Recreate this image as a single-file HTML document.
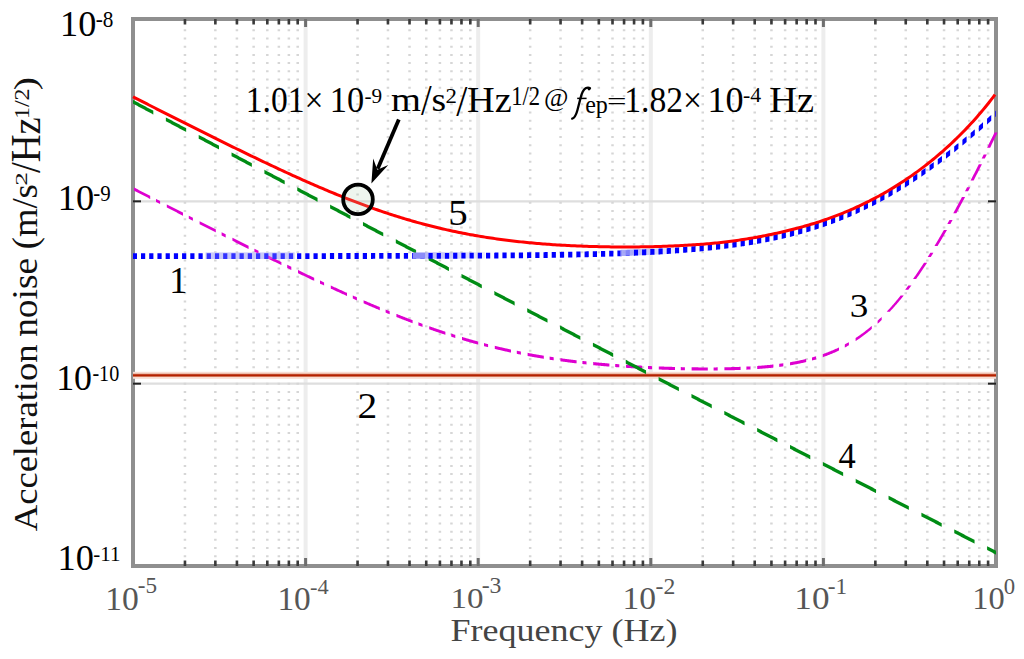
<!DOCTYPE html><html><head><meta charset="utf-8"><style>html,body{margin:0;padding:0;background:#fff;width:1024px;height:659px;overflow:hidden}svg{display:block}text{font-family:"Liberation Serif",serif}</style></head><body>
<svg id="root" width="1024" height="659" viewBox="0 0 1024 659">
<rect x="0" y="0" width="1024" height="659" fill="#fff"/>
<g id="major">
<line x1="305.60" y1="21" x2="305.60" y2="564" stroke="#ededed" stroke-width="4"/>
<line x1="478.20" y1="21" x2="478.20" y2="564" stroke="#ededed" stroke-width="4"/>
<line x1="650.80" y1="21" x2="650.80" y2="564" stroke="#ededed" stroke-width="4"/>
<line x1="823.40" y1="21" x2="823.40" y2="564" stroke="#ededed" stroke-width="4"/>
<line x1="135" y1="201.33" x2="994" y2="201.33" stroke="#dedede" stroke-width="2.2"/>
<line x1="135" y1="383.67" x2="994" y2="383.67" stroke="#dedede" stroke-width="2.2"/>
</g>
<g id="minor" stroke="#d6d6d6" stroke-width="2.5" stroke-dasharray="2 6.22" stroke-dashoffset="0">
<line x1="184.96" y1="21" x2="184.96" y2="564"/>
<line x1="215.35" y1="21" x2="215.35" y2="564"/>
<line x1="236.92" y1="21" x2="236.92" y2="564"/>
<line x1="253.64" y1="21" x2="253.64" y2="564"/>
<line x1="267.31" y1="21" x2="267.31" y2="564"/>
<line x1="278.86" y1="21" x2="278.86" y2="564"/>
<line x1="288.87" y1="21" x2="288.87" y2="564"/>
<line x1="297.70" y1="21" x2="297.70" y2="564"/>
<line x1="357.56" y1="21" x2="357.56" y2="564"/>
<line x1="387.95" y1="21" x2="387.95" y2="564"/>
<line x1="409.52" y1="21" x2="409.52" y2="564"/>
<line x1="426.24" y1="21" x2="426.24" y2="564"/>
<line x1="439.91" y1="21" x2="439.91" y2="564"/>
<line x1="451.46" y1="21" x2="451.46" y2="564"/>
<line x1="461.47" y1="21" x2="461.47" y2="564"/>
<line x1="470.30" y1="21" x2="470.30" y2="564"/>
<line x1="530.16" y1="21" x2="530.16" y2="564"/>
<line x1="560.55" y1="21" x2="560.55" y2="564"/>
<line x1="582.12" y1="21" x2="582.12" y2="564"/>
<line x1="598.84" y1="21" x2="598.84" y2="564"/>
<line x1="612.51" y1="21" x2="612.51" y2="564"/>
<line x1="624.06" y1="21" x2="624.06" y2="564"/>
<line x1="634.07" y1="21" x2="634.07" y2="564"/>
<line x1="642.90" y1="21" x2="642.90" y2="564"/>
<line x1="702.76" y1="21" x2="702.76" y2="564"/>
<line x1="733.15" y1="21" x2="733.15" y2="564"/>
<line x1="754.72" y1="21" x2="754.72" y2="564"/>
<line x1="771.44" y1="21" x2="771.44" y2="564"/>
<line x1="785.11" y1="21" x2="785.11" y2="564"/>
<line x1="796.66" y1="21" x2="796.66" y2="564"/>
<line x1="806.67" y1="21" x2="806.67" y2="564"/>
<line x1="815.50" y1="21" x2="815.50" y2="564"/>
<line x1="875.36" y1="21" x2="875.36" y2="564"/>
<line x1="905.75" y1="21" x2="905.75" y2="564"/>
<line x1="927.32" y1="21" x2="927.32" y2="564"/>
<line x1="944.04" y1="21" x2="944.04" y2="564"/>
<line x1="957.71" y1="21" x2="957.71" y2="564"/>
<line x1="969.26" y1="21" x2="969.26" y2="564"/>
<line x1="979.27" y1="21" x2="979.27" y2="564"/>
<line x1="988.10" y1="21" x2="988.10" y2="564"/>
</g>
<rect x="133" y="19" width="863" height="547" fill="none" stroke="#8f8f8f" stroke-width="4"/>
<defs>
<linearGradient id="bg0" x1="0" x2="1" y1="0" y2="0"><stop offset="0" stop-color="#bcbcf8" stop-opacity="1"/><stop offset="1" stop-color="#bcbcf8" stop-opacity="1"/></linearGradient>
<linearGradient id="bg1" x1="0" x2="1" y1="0" y2="0"><stop offset="0" stop-color="#b8b8f8" stop-opacity="1"/><stop offset="1" stop-color="#b8b8f8" stop-opacity="0.25"/></linearGradient>
<linearGradient id="bg2" x1="0" x2="1" y1="0" y2="0"><stop offset="0" stop-color="#b8b8f8" stop-opacity="1"/><stop offset="1" stop-color="#b8b8f8" stop-opacity="0.25"/></linearGradient>
</defs>
<polygon points="205.60,252.58 213.68,252.58 221.76,252.58 229.85,252.57 237.93,252.57 246.01,252.57 254.09,252.57 262.17,252.56 270.25,252.56 278.34,252.56 286.42,252.55 294.50,252.55 294.50,258.95 286.42,258.95 278.34,258.96 270.25,258.96 262.17,258.96 254.09,258.97 246.01,258.97 237.93,258.97 229.85,258.97 221.76,258.98 213.68,258.98 205.60,258.98" fill="url(#bg0)"/>
<polygon points="425.50,252.36 430.91,252.34 436.32,252.33 441.73,252.31 447.14,252.29 452.55,252.26 457.95,252.24 463.36,252.22 468.77,252.19 474.18,252.16 479.59,252.13 485.00,252.09 485.00,258.49 479.59,258.53 474.18,258.56 468.77,258.59 463.36,258.62 457.95,258.64 452.55,258.66 447.14,258.69 441.73,258.71 436.32,258.73 430.91,258.74 425.50,258.76" fill="url(#bg1)"/>
<polygon points="633.90,249.27 637.55,249.12 641.19,248.95 644.84,248.78 648.48,248.60 652.13,248.42 655.77,248.22 659.42,248.02 663.06,247.81 666.71,247.58 670.35,247.35 674.00,247.11 674.00,253.51 670.35,253.75 666.71,253.98 663.06,254.21 659.42,254.42 655.77,254.62 652.13,254.82 648.48,255.00 644.84,255.18 641.19,255.35 637.55,255.52 633.90,255.67" fill="url(#bg2)"/>
<rect x="133" y="371.80" width="863" height="7.00" fill="#f8dcd3"/>
<rect x="133" y="373.60" width="863" height="3.40" fill="#dc8c70"/>
<rect x="133" y="374.35" width="863" height="1.90" fill="#b42000"/>
<path id="c3" d="M134.00 187.49 L134.12 187.56 L134.62 187.82 L135.12 188.07 L135.62 188.33 L136.12 188.59 L136.62 188.85 L137.12 189.10 L137.62 189.36 L138.12 189.62 L138.62 189.88 L139.12 190.14 L139.62 190.39 L140.12 190.65 L140.62 190.91 L141.12 191.17 L141.62 191.42 L142.12 191.68 L142.62 191.94 L143.12 192.20 L143.62 192.45 L144.12 192.71 L144.62 192.97 L145.12 193.22 L145.62 193.48 L146.12 193.74 L146.62 194.00 L147.12 194.25 L147.62 194.51 L148.12 194.77 L148.62 195.03 L149.12 195.28 L149.62 195.54 L150.12 195.80 L150.20 195.84 L150.20 198.94 L150.12 198.90 L149.62 198.64 L149.12 198.38 L148.62 198.13 L148.12 197.87 L147.62 197.61 L147.12 197.35 L146.62 197.10 L146.12 196.84 L145.62 196.58 L145.12 196.32 L144.62 196.07 L144.12 195.81 L143.62 195.55 L143.12 195.30 L142.62 195.04 L142.12 194.78 L141.62 194.52 L141.12 194.27 L140.62 194.01 L140.12 193.75 L139.62 193.49 L139.12 193.24 L138.62 192.98 L138.12 192.72 L137.62 192.46 L137.12 192.20 L136.62 191.95 L136.12 191.69 L135.62 191.43 L135.12 191.17 L134.62 190.92 L134.12 190.66 L134.00 190.59Z M156.00 198.82 L156.12 198.88 L156.62 199.14 L157.12 199.40 L157.62 199.65 L158.12 199.91 L158.62 200.17 L159.12 200.42 L159.62 200.68 L160.10 200.92 L160.10 204.02 L159.62 203.78 L159.12 203.52 L158.62 203.27 L158.12 203.01 L157.62 202.75 L157.12 202.50 L156.62 202.24 L156.12 201.98 L156.00 201.92Z M166.80 204.36 L166.88 204.40 L167.38 204.66 L167.88 204.91 L168.38 205.17 L168.88 205.43 L169.38 205.68 L169.88 205.94 L170.38 206.19 L170.88 206.45 L171.38 206.71 L171.88 206.96 L172.38 207.22 L172.88 207.47 L173.38 207.73 L173.88 207.99 L174.38 208.24 L174.88 208.50 L175.38 208.76 L175.88 209.01 L176.38 209.27 L176.88 209.52 L177.38 209.78 L177.88 210.03 L178.38 210.29 L178.88 210.55 L179.38 210.80 L179.88 211.06 L180.38 211.31 L180.88 211.57 L181.38 211.82 L181.88 212.08 L182.38 212.34 L182.88 212.59 L183.00 212.66 L183.00 215.76 L182.88 215.69 L182.38 215.44 L181.88 215.18 L181.38 214.92 L180.88 214.67 L180.38 214.41 L179.88 214.16 L179.38 213.90 L178.88 213.65 L178.38 213.39 L177.88 213.13 L177.38 212.88 L176.88 212.62 L176.38 212.37 L175.88 212.11 L175.38 211.86 L174.88 211.60 L174.38 211.34 L173.88 211.09 L173.38 210.83 L172.88 210.57 L172.38 210.32 L171.88 210.06 L171.38 209.81 L170.88 209.55 L170.38 209.29 L169.88 209.04 L169.38 208.78 L168.88 208.53 L168.38 208.27 L167.88 208.01 L167.38 207.76 L166.88 207.50 L166.80 207.46Z M188.80 215.62 L188.88 215.66 L189.38 215.91 L189.88 216.17 L190.38 216.42 L190.88 216.68 L191.38 216.93 L191.88 217.19 L192.38 217.44 L192.88 217.70 L192.90 217.71 L192.90 220.81 L192.88 220.80 L192.38 220.54 L191.88 220.29 L191.38 220.03 L190.88 219.78 L190.38 219.52 L189.88 219.27 L189.38 219.01 L188.88 218.76 L188.80 218.72Z M199.60 221.12 L199.62 221.13 L200.12 221.39 L200.62 221.64 L201.12 221.90 L201.62 222.15 L202.12 222.41 L202.62 222.66 L203.12 222.91 L203.62 223.17 L204.12 223.42 L204.62 223.68 L205.12 223.93 L205.62 224.18 L206.12 224.44 L206.62 224.69 L207.12 224.95 L207.62 225.20 L208.12 225.45 L208.62 225.71 L209.12 225.96 L209.62 226.21 L210.12 226.47 L210.62 226.72 L211.12 226.98 L211.62 227.23 L212.12 227.48 L212.62 227.74 L213.12 227.99 L213.62 228.24 L214.12 228.50 L214.62 228.75 L215.12 229.00 L215.62 229.26 L215.80 229.34 L215.80 232.44 L215.62 232.36 L215.12 232.10 L214.62 231.85 L214.12 231.60 L213.62 231.34 L213.12 231.09 L212.62 230.84 L212.12 230.58 L211.62 230.33 L211.12 230.08 L210.62 229.82 L210.12 229.57 L209.62 229.31 L209.12 229.06 L208.62 228.81 L208.12 228.55 L207.62 228.30 L207.12 228.05 L206.62 227.79 L206.12 227.54 L205.62 227.28 L205.12 227.03 L204.62 226.78 L204.12 226.52 L203.62 226.27 L203.12 226.01 L202.62 225.76 L202.12 225.51 L201.62 225.25 L201.12 225.00 L200.62 224.74 L200.12 224.49 L199.62 224.23 L199.60 224.22Z M221.60 232.28 L221.62 232.29 L222.12 232.54 L222.62 232.79 L223.12 233.05 L223.62 233.30 L224.12 233.55 L224.62 233.80 L225.12 234.06 L225.62 234.31 L225.70 234.35 L225.70 237.45 L225.62 237.41 L225.12 237.16 L224.62 236.90 L224.12 236.65 L223.62 236.40 L223.12 236.15 L222.62 235.89 L222.12 235.64 L221.62 235.39 L221.60 235.38Z M232.40 237.72 L232.50 237.77 L233.00 238.02 L233.50 238.27 L234.00 238.52 L234.50 238.77 L235.00 239.03 L235.50 239.28 L236.00 239.53 L236.50 239.78 L237.00 240.03 L237.50 240.28 L238.00 240.53 L238.50 240.78 L239.00 241.03 L239.50 241.28 L240.00 241.53 L240.50 241.78 L241.00 242.04 L241.50 242.29 L242.00 242.54 L242.50 242.79 L243.00 243.04 L243.50 243.29 L244.00 243.54 L244.50 243.79 L245.00 244.04 L245.50 244.29 L246.00 244.54 L246.50 244.79 L247.00 245.03 L247.50 245.28 L248.00 245.53 L248.50 245.78 L248.60 245.83 L248.60 248.93 L248.50 248.88 L248.00 248.63 L247.50 248.38 L247.00 248.13 L246.50 247.89 L246.00 247.64 L245.50 247.39 L245.00 247.14 L244.50 246.89 L244.00 246.64 L243.50 246.39 L243.00 246.14 L242.50 245.89 L242.00 245.64 L241.50 245.39 L241.00 245.14 L240.50 244.88 L240.00 244.63 L239.50 244.38 L239.00 244.13 L238.50 243.88 L238.00 243.63 L237.50 243.38 L237.00 243.13 L236.50 242.88 L236.00 242.63 L235.50 242.38 L235.00 242.13 L234.50 241.87 L234.00 241.62 L233.50 241.37 L233.00 241.12 L232.50 240.87 L232.40 240.82Z M254.40 248.72 L254.50 248.77 L255.00 249.02 L255.50 249.27 L256.00 249.52 L256.50 249.76 L257.00 250.01 L257.50 250.26 L258.00 250.51 L258.50 250.76 L258.50 253.86 L258.00 253.61 L257.50 253.36 L257.00 253.11 L256.50 252.86 L256.00 252.62 L255.50 252.37 L255.00 252.12 L254.50 251.87 L254.40 251.82Z M265.20 254.07 L265.25 254.10 L265.75 254.34 L266.25 254.59 L266.75 254.84 L267.25 255.08 L267.75 255.33 L268.25 255.58 L268.75 255.82 L269.25 256.07 L269.75 256.32 L270.25 256.56 L270.75 256.81 L271.25 257.05 L271.75 257.30 L272.25 257.54 L272.75 257.79 L273.25 258.04 L273.75 258.28 L274.25 258.53 L274.75 258.77 L275.25 259.02 L275.75 259.26 L276.25 259.51 L276.75 259.75 L277.25 260.00 L277.75 260.24 L278.25 260.49 L278.75 260.73 L279.25 260.97 L279.75 261.22 L280.25 261.46 L280.75 261.71 L281.25 261.95 L281.40 262.02 L281.40 265.12 L281.25 265.05 L280.75 264.81 L280.25 264.56 L279.75 264.32 L279.25 264.07 L278.75 263.83 L278.25 263.59 L277.75 263.34 L277.25 263.10 L276.75 262.85 L276.25 262.61 L275.75 262.36 L275.25 262.12 L274.75 261.87 L274.25 261.63 L273.75 261.38 L273.25 261.14 L272.75 260.89 L272.25 260.64 L271.75 260.40 L271.25 260.15 L270.75 259.91 L270.25 259.66 L269.75 259.42 L269.25 259.17 L268.75 258.92 L268.25 258.68 L267.75 258.43 L267.25 258.18 L266.75 257.94 L266.25 257.69 L265.75 257.44 L265.25 257.20 L265.20 257.17Z M287.20 264.85 L287.25 264.87 L287.75 265.11 L288.25 265.36 L288.75 265.60 L289.25 265.84 L289.75 266.08 L290.25 266.32 L290.75 266.57 L291.25 266.81 L291.30 266.83 L291.30 269.93 L291.25 269.91 L290.75 269.67 L290.25 269.42 L289.75 269.18 L289.25 268.94 L288.75 268.70 L288.25 268.46 L287.75 268.21 L287.25 267.97 L287.20 267.95Z M298.00 270.06 L298.12 270.12 L298.62 270.36 L299.12 270.60 L299.62 270.84 L300.12 271.08 L300.62 271.32 L301.12 271.56 L301.62 271.80 L302.12 272.04 L302.62 272.28 L303.12 272.52 L303.62 272.75 L304.12 272.99 L304.62 273.23 L305.12 273.47 L305.62 273.71 L306.12 273.95 L306.62 274.18 L307.12 274.42 L307.62 274.66 L308.12 274.90 L308.62 275.14 L309.12 275.37 L309.62 275.61 L310.12 275.85 L310.62 276.08 L311.12 276.32 L311.62 276.56 L312.12 276.79 L312.62 277.03 L313.12 277.27 L313.62 277.50 L314.12 277.74 L314.20 277.77 L314.20 280.87 L314.12 280.84 L313.62 280.60 L313.12 280.37 L312.62 280.13 L312.12 279.89 L311.62 279.66 L311.12 279.42 L310.62 279.18 L310.12 278.95 L309.62 278.71 L309.12 278.47 L308.62 278.24 L308.12 278.00 L307.62 277.76 L307.12 277.52 L306.62 277.28 L306.12 277.05 L305.62 276.81 L305.12 276.57 L304.62 276.33 L304.12 276.09 L303.62 275.85 L303.12 275.62 L302.62 275.38 L302.12 275.14 L301.62 274.90 L301.12 274.66 L300.62 274.42 L300.12 274.18 L299.62 273.94 L299.12 273.70 L298.62 273.46 L298.12 273.22 L298.00 273.16Z M320.00 280.50 L320.12 280.56 L320.62 280.79 L321.12 281.03 L321.62 281.26 L322.12 281.49 L322.62 281.73 L323.12 281.96 L323.62 282.19 L324.10 282.41 L324.10 285.51 L323.62 285.29 L323.12 285.06 L322.62 284.83 L322.12 284.59 L321.62 284.36 L321.12 284.13 L320.62 283.89 L320.12 283.66 L320.00 283.60Z M330.80 285.52 L330.88 285.55 L331.38 285.78 L331.88 286.01 L332.38 286.24 L332.88 286.47 L333.38 286.70 L333.88 286.93 L334.38 287.16 L334.88 287.39 L335.38 287.62 L335.88 287.85 L336.38 288.08 L336.88 288.30 L337.38 288.53 L337.88 288.76 L338.38 288.99 L338.88 289.22 L339.38 289.44 L339.88 289.67 L340.38 289.90 L340.88 290.12 L341.38 290.35 L341.88 290.58 L342.38 290.80 L342.88 291.03 L343.38 291.26 L343.88 291.48 L344.38 291.71 L344.88 291.93 L345.38 292.16 L345.88 292.38 L346.38 292.61 L346.88 292.83 L347.00 292.89 L347.00 295.99 L346.88 295.93 L346.38 295.71 L345.88 295.48 L345.38 295.26 L344.88 295.03 L344.38 294.81 L343.88 294.58 L343.38 294.36 L342.88 294.13 L342.38 293.90 L341.88 293.68 L341.38 293.45 L340.88 293.22 L340.38 293.00 L339.88 292.77 L339.38 292.54 L338.88 292.32 L338.38 292.09 L337.88 291.86 L337.38 291.63 L336.88 291.40 L336.38 291.18 L335.88 290.95 L335.38 290.72 L334.88 290.49 L334.38 290.26 L333.88 290.03 L333.38 289.80 L332.88 289.57 L332.38 289.34 L331.88 289.11 L331.38 288.88 L330.88 288.65 L330.80 288.62Z M352.80 295.47 L352.88 295.51 L353.38 295.73 L353.88 295.95 L354.38 296.17 L354.88 296.39 L355.38 296.61 L355.88 296.84 L356.38 297.06 L356.88 297.28 L356.90 297.29 L356.90 300.39 L356.88 300.38 L356.38 300.16 L355.88 299.94 L355.38 299.71 L354.88 299.49 L354.38 299.27 L353.88 299.05 L353.38 298.83 L352.88 298.61 L352.80 298.57Z M363.60 300.21 L363.62 300.23 L364.12 300.44 L364.62 300.66 L365.12 300.88 L365.62 301.09 L366.12 301.31 L366.62 301.52 L367.12 301.74 L367.62 301.95 L368.12 302.17 L368.62 302.38 L369.12 302.60 L369.62 302.81 L370.12 303.03 L370.62 303.24 L371.12 303.45 L371.62 303.67 L372.12 303.88 L372.62 304.09 L373.12 304.30 L373.62 304.51 L374.12 304.73 L374.62 304.94 L375.12 305.15 L375.62 305.36 L376.12 305.57 L376.62 305.78 L377.12 305.99 L377.62 306.20 L378.12 306.41 L378.62 306.62 L379.12 306.83 L379.62 307.04 L379.80 307.11 L379.80 310.21 L379.62 310.14 L379.12 309.93 L378.62 309.72 L378.12 309.51 L377.62 309.30 L377.12 309.09 L376.62 308.88 L376.12 308.67 L375.62 308.46 L375.12 308.25 L374.62 308.04 L374.12 307.83 L373.62 307.61 L373.12 307.40 L372.62 307.19 L372.12 306.98 L371.62 306.77 L371.12 306.55 L370.62 306.34 L370.12 306.13 L369.62 305.91 L369.12 305.70 L368.62 305.48 L368.12 305.27 L367.62 305.05 L367.12 304.84 L366.62 304.62 L366.12 304.41 L365.62 304.19 L365.12 303.98 L364.62 303.76 L364.12 303.54 L363.62 303.33 L363.60 303.31Z M385.60 309.51 L385.62 309.52 L386.12 309.73 L386.62 309.93 L387.12 310.14 L387.62 310.34 L388.12 310.55 L388.62 310.75 L389.12 310.95 L389.62 311.16 L389.70 311.19 L389.70 314.29 L389.62 314.26 L389.12 314.05 L388.62 313.85 L388.12 313.65 L387.62 313.44 L387.12 313.24 L386.62 313.03 L386.12 312.83 L385.62 312.62 L385.60 312.61Z M396.40 313.88 L396.50 313.92 L397.00 314.12 L397.50 314.32 L398.00 314.51 L398.50 314.71 L399.00 314.91 L399.50 315.11 L400.00 315.30 L400.50 315.50 L401.00 315.70 L401.50 315.89 L402.00 316.09 L402.50 316.28 L403.00 316.48 L403.50 316.67 L404.00 316.87 L404.50 317.06 L405.00 317.25 L405.50 317.45 L406.00 317.64 L406.50 317.83 L407.00 318.02 L407.50 318.22 L408.00 318.41 L408.50 318.60 L409.00 318.79 L409.50 318.98 L410.00 319.17 L410.50 319.36 L411.00 319.55 L411.50 319.74 L412.00 319.93 L412.50 320.12 L412.60 320.15 L412.60 323.25 L412.50 323.22 L412.00 323.03 L411.50 322.84 L411.00 322.65 L410.50 322.46 L410.00 322.27 L409.50 322.08 L409.00 321.89 L408.50 321.70 L408.00 321.51 L407.50 321.32 L407.00 321.12 L406.50 320.93 L406.00 320.74 L405.50 320.55 L405.00 320.35 L404.50 320.16 L404.00 319.97 L403.50 319.77 L403.00 319.58 L402.50 319.38 L402.00 319.19 L401.50 318.99 L401.00 318.80 L400.50 318.60 L400.00 318.40 L399.50 318.21 L399.00 318.01 L398.50 317.81 L398.00 317.61 L397.50 317.42 L397.00 317.22 L396.50 317.02 L396.40 316.98Z M418.40 322.31 L418.50 322.35 L419.00 322.53 L419.50 322.72 L420.00 322.90 L420.50 323.08 L421.00 323.27 L421.50 323.45 L422.00 323.63 L422.50 323.81 L422.50 326.91 L422.00 326.73 L421.50 326.55 L421.00 326.37 L420.50 326.18 L420.00 326.00 L419.50 325.82 L419.00 325.63 L418.50 325.45 L418.40 325.41Z M429.20 326.21 L429.25 326.22 L429.75 326.40 L430.25 326.57 L430.75 326.75 L431.25 326.92 L431.75 327.10 L432.25 327.27 L432.75 327.45 L433.25 327.62 L433.75 327.79 L434.25 327.97 L434.75 328.14 L435.25 328.31 L435.75 328.48 L436.25 328.65 L436.75 328.82 L437.25 328.99 L437.75 329.16 L438.25 329.33 L438.75 329.50 L439.25 329.67 L439.75 329.84 L440.25 330.00 L440.75 330.17 L441.25 330.34 L441.75 330.51 L442.25 330.67 L442.75 330.84 L443.25 331.00 L443.75 331.17 L444.25 331.33 L444.75 331.50 L445.25 331.66 L445.40 331.71 L445.40 334.81 L445.25 334.76 L444.75 334.60 L444.25 334.43 L443.75 334.27 L443.25 334.10 L442.75 333.94 L442.25 333.77 L441.75 333.61 L441.25 333.44 L440.75 333.27 L440.25 333.10 L439.75 332.94 L439.25 332.77 L438.75 332.60 L438.25 332.43 L437.75 332.26 L437.25 332.09 L436.75 331.92 L436.25 331.75 L435.75 331.58 L435.25 331.41 L434.75 331.24 L434.25 331.07 L433.75 330.89 L433.25 330.72 L432.75 330.55 L432.25 330.37 L431.75 330.20 L431.25 330.02 L430.75 329.85 L430.25 329.67 L429.75 329.50 L429.25 329.32 L429.20 329.31Z M451.20 333.58 L451.25 333.59 L451.75 333.75 L452.25 333.91 L452.75 334.07 L453.25 334.23 L453.75 334.38 L454.25 334.54 L454.75 334.70 L455.25 334.85 L455.30 334.87 L455.30 337.97 L455.25 337.95 L454.75 337.80 L454.25 337.64 L453.75 337.48 L453.25 337.33 L452.75 337.17 L452.25 337.01 L451.75 336.85 L451.25 336.69 L451.20 336.68Z M462.00 336.91 L462.12 336.95 L462.62 337.10 L463.12 337.25 L463.62 337.40 L464.12 337.54 L464.62 337.69 L465.12 337.84 L465.62 337.99 L466.12 338.13 L466.62 338.28 L467.12 338.42 L467.62 338.57 L468.12 338.71 L468.62 338.86 L469.12 339.00 L469.62 339.14 L470.12 339.29 L470.62 339.43 L471.12 339.57 L471.62 339.71 L472.12 339.86 L472.62 340.00 L473.12 340.14 L473.62 340.28 L474.12 340.42 L474.62 340.56 L475.12 340.69 L475.62 340.83 L476.12 340.97 L476.62 341.11 L477.12 341.24 L477.62 341.38 L478.12 341.52 L478.20 341.54 L478.20 344.64 L478.12 344.62 L477.62 344.48 L477.12 344.34 L476.62 344.21 L476.12 344.07 L475.62 343.93 L475.12 343.79 L474.62 343.66 L474.12 343.52 L473.62 343.38 L473.12 343.24 L472.62 343.10 L472.12 342.96 L471.62 342.81 L471.12 342.67 L470.62 342.53 L470.12 342.39 L469.62 342.24 L469.12 342.10 L468.62 341.96 L468.12 341.81 L467.62 341.67 L467.12 341.52 L466.62 341.38 L466.12 341.23 L465.62 341.09 L465.12 340.94 L464.62 340.79 L464.12 340.64 L463.62 340.50 L463.12 340.35 L462.62 340.20 L462.12 340.05 L462.00 340.01Z M484.00 343.08 L484.12 343.12 L484.62 343.25 L485.12 343.38 L485.62 343.51 L486.12 343.64 L486.62 343.77 L487.12 343.89 L487.62 344.02 L488.10 344.14 L488.10 347.24 L487.62 347.12 L487.12 346.99 L486.62 346.87 L486.12 346.74 L485.62 346.61 L485.12 346.48 L484.62 346.35 L484.12 346.22 L484.00 346.18Z M494.80 345.81 L494.88 345.83 L495.38 345.95 L495.88 346.07 L496.38 346.19 L496.88 346.31 L497.38 346.43 L497.88 346.55 L498.38 346.67 L498.88 346.78 L499.38 346.90 L499.88 347.02 L500.38 347.14 L500.88 347.25 L501.38 347.37 L501.88 347.48 L502.38 347.60 L502.88 347.71 L503.38 347.83 L503.88 347.94 L504.38 348.06 L504.88 348.17 L505.38 348.28 L505.88 348.39 L506.38 348.51 L506.88 348.62 L507.38 348.73 L507.88 348.84 L508.38 348.95 L508.88 349.06 L509.38 349.17 L509.88 349.28 L510.38 349.38 L510.88 349.49 L511.00 349.52 L511.00 352.62 L510.88 352.59 L510.38 352.48 L509.88 352.38 L509.38 352.27 L508.88 352.16 L508.38 352.05 L507.88 351.94 L507.38 351.83 L506.88 351.72 L506.38 351.61 L505.88 351.49 L505.38 351.38 L504.88 351.27 L504.38 351.16 L503.88 351.04 L503.38 350.93 L502.88 350.81 L502.38 350.70 L501.88 350.58 L501.38 350.47 L500.88 350.35 L500.38 350.24 L499.88 350.12 L499.38 350.00 L498.88 349.88 L498.38 349.77 L497.88 349.65 L497.38 349.53 L496.88 349.41 L496.38 349.29 L495.88 349.17 L495.38 349.05 L494.88 348.93 L494.80 348.91Z M516.80 350.74 L516.88 350.76 L517.38 350.86 L517.88 350.96 L518.38 351.06 L518.88 351.16 L519.38 351.26 L519.88 351.36 L520.38 351.46 L520.88 351.56 L520.90 351.57 L520.90 354.67 L520.88 354.66 L520.38 354.56 L519.88 354.46 L519.38 354.36 L518.88 354.26 L518.38 354.16 L517.88 354.06 L517.38 353.96 L516.88 353.86 L516.80 353.84Z M527.60 352.86 L527.62 352.87 L528.12 352.96 L528.62 353.06 L529.12 353.15 L529.62 353.24 L530.12 353.33 L530.62 353.43 L531.12 353.52 L531.62 353.61 L532.12 353.70 L532.62 353.79 L533.12 353.88 L533.62 353.97 L534.12 354.06 L534.62 354.15 L535.12 354.23 L535.62 354.32 L536.12 354.41 L536.62 354.50 L537.12 354.58 L537.62 354.67 L538.12 354.75 L538.62 354.84 L539.12 354.92 L539.62 355.01 L540.12 355.09 L540.62 355.18 L541.12 355.26 L541.62 355.34 L542.12 355.43 L542.62 355.51 L543.12 355.59 L543.62 355.67 L543.80 355.70 L543.80 358.80 L543.62 358.77 L543.12 358.69 L542.62 358.61 L542.12 358.53 L541.62 358.44 L541.12 358.36 L540.62 358.28 L540.12 358.19 L539.62 358.11 L539.12 358.02 L538.62 357.94 L538.12 357.85 L537.62 357.77 L537.12 357.68 L536.62 357.60 L536.12 357.51 L535.62 357.42 L535.12 357.33 L534.62 357.25 L534.12 357.16 L533.62 357.07 L533.12 356.98 L532.62 356.89 L532.12 356.80 L531.62 356.71 L531.12 356.62 L530.62 356.53 L530.12 356.43 L529.62 356.34 L529.12 356.25 L528.62 356.16 L528.12 356.06 L527.62 355.97 L527.60 355.96Z M549.60 356.62 L549.62 356.62 L550.12 356.70 L550.62 356.78 L551.12 356.85 L551.62 356.93 L552.12 357.01 L552.62 357.08 L553.12 357.16 L553.62 357.23 L553.70 357.24 L553.70 360.34 L553.62 360.33 L553.12 360.26 L552.62 360.18 L552.12 360.11 L551.62 360.03 L551.12 359.95 L550.62 359.88 L550.12 359.80 L549.62 359.72 L549.60 359.72Z M560.40 358.20 L560.50 358.22 L561.00 358.29 L561.50 358.35 L562.00 358.42 L562.50 358.49 L563.00 358.56 L563.50 358.63 L564.00 358.69 L564.50 358.76 L565.00 358.83 L565.50 358.89 L566.00 358.96 L566.50 359.02 L567.00 359.09 L567.50 359.15 L568.00 359.22 L568.50 359.28 L569.00 359.35 L569.50 359.41 L570.00 359.47 L570.50 359.54 L571.00 359.60 L571.50 359.66 L572.00 359.72 L572.50 359.78 L573.00 359.84 L573.50 359.91 L574.00 359.97 L574.50 360.03 L575.00 360.09 L575.50 360.15 L576.00 360.21 L576.50 360.26 L576.60 360.28 L576.60 363.38 L576.50 363.36 L576.00 363.31 L575.50 363.25 L575.00 363.19 L574.50 363.13 L574.00 363.07 L573.50 363.01 L573.00 362.94 L572.50 362.88 L572.00 362.82 L571.50 362.76 L571.00 362.70 L570.50 362.64 L570.00 362.57 L569.50 362.51 L569.00 362.45 L568.50 362.38 L568.00 362.32 L567.50 362.25 L567.00 362.19 L566.50 362.12 L566.00 362.06 L565.50 361.99 L565.00 361.93 L564.50 361.86 L564.00 361.79 L563.50 361.73 L563.00 361.66 L562.50 361.59 L562.00 361.52 L561.50 361.45 L561.00 361.39 L560.50 361.32 L560.40 361.30Z M582.40 360.94 L582.50 360.95 L583.00 361.00 L583.50 361.06 L584.00 361.11 L584.50 361.17 L585.00 361.22 L585.50 361.27 L586.00 361.33 L586.50 361.38 L586.50 364.48 L586.00 364.43 L585.50 364.37 L585.00 364.32 L584.50 364.27 L584.00 364.21 L583.50 364.16 L583.00 364.10 L582.50 364.05 L582.40 364.04Z M593.20 362.06 L593.25 362.07 L593.75 362.12 L594.25 362.16 L594.75 362.21 L595.25 362.26 L595.75 362.31 L596.25 362.36 L596.75 362.40 L597.25 362.45 L597.75 362.50 L598.25 362.54 L598.75 362.59 L599.25 362.64 L599.75 362.68 L600.25 362.73 L600.75 362.77 L601.25 362.82 L601.75 362.86 L602.25 362.91 L602.75 362.95 L603.25 362.99 L603.75 363.04 L604.25 363.08 L604.75 363.12 L605.25 363.17 L605.75 363.21 L606.25 363.25 L606.75 363.29 L607.25 363.33 L607.75 363.38 L608.25 363.42 L608.75 363.46 L609.25 363.50 L609.40 363.51 L609.40 366.61 L609.25 366.60 L608.75 366.56 L608.25 366.52 L607.75 366.48 L607.25 366.43 L606.75 366.39 L606.25 366.35 L605.75 366.31 L605.25 366.27 L604.75 366.22 L604.25 366.18 L603.75 366.14 L603.25 366.09 L602.75 366.05 L602.25 366.01 L601.75 365.96 L601.25 365.92 L600.75 365.87 L600.25 365.83 L599.75 365.78 L599.25 365.74 L598.75 365.69 L598.25 365.64 L597.75 365.60 L597.25 365.55 L596.75 365.50 L596.25 365.46 L595.75 365.41 L595.25 365.36 L594.75 365.31 L594.25 365.26 L593.75 365.22 L593.25 365.17 L593.20 365.16Z M615.20 363.96 L615.25 363.97 L615.75 364.01 L616.25 364.04 L616.75 364.08 L617.25 364.12 L617.75 364.15 L618.25 364.19 L618.75 364.23 L619.25 364.26 L619.30 364.27 L619.30 367.37 L619.25 367.36 L618.75 367.33 L618.25 367.29 L617.75 367.25 L617.25 367.22 L616.75 367.18 L616.25 367.14 L615.75 367.11 L615.25 367.07 L615.20 367.06Z M626.00 364.72 L626.00 364.72 L626.50 364.76 L627.00 364.79 L627.50 364.82 L628.00 364.85 L628.50 364.89 L629.00 364.92 L629.50 364.95 L630.00 364.98 L630.50 365.01 L631.00 365.04 L631.50 365.07 L632.00 365.10 L632.50 365.13 L633.00 365.16 L633.50 365.19 L634.00 365.22 L634.50 365.25 L635.00 365.28 L635.50 365.31 L636.00 365.34 L636.50 365.36 L637.00 365.39 L637.50 365.42 L638.00 365.45 L638.50 365.48 L639.00 365.50 L639.50 365.53 L640.00 365.56 L640.50 365.58 L641.00 365.61 L641.50 365.64 L642.00 365.66 L642.20 365.67 L642.20 368.77 L642.00 368.76 L641.50 368.74 L641.00 368.71 L640.50 368.68 L640.00 368.66 L639.50 368.63 L639.00 368.60 L638.50 368.58 L638.00 368.55 L637.50 368.52 L637.00 368.49 L636.50 368.46 L636.00 368.44 L635.50 368.41 L635.00 368.38 L634.50 368.35 L634.00 368.32 L633.50 368.29 L633.00 368.26 L632.50 368.23 L632.00 368.20 L631.50 368.17 L631.00 368.14 L630.50 368.11 L630.00 368.08 L629.50 368.05 L629.00 368.02 L628.50 367.99 L628.00 367.95 L627.50 367.92 L627.00 367.89 L626.50 367.86 L626.00 367.82 L626.00 367.82Z M648.00 365.96 L648.12 365.97 L648.62 365.99 L649.12 366.01 L649.62 366.04 L650.12 366.06 L650.62 366.08 L651.12 366.11 L651.62 366.13 L652.10 366.15 L652.10 369.25 L651.62 369.23 L651.12 369.21 L650.62 369.18 L650.12 369.16 L649.62 369.14 L649.12 369.11 L648.62 369.09 L648.12 369.07 L648.00 369.06Z M658.80 366.43 L658.88 366.43 L659.38 366.45 L659.88 366.47 L660.38 366.49 L660.88 366.51 L661.38 366.52 L661.88 366.54 L662.38 366.56 L662.88 366.58 L663.38 366.60 L663.88 366.61 L664.38 366.63 L664.88 366.65 L665.38 366.67 L665.88 366.68 L666.38 366.70 L666.88 366.72 L667.38 366.73 L667.88 366.75 L668.38 366.77 L668.88 366.78 L669.38 366.80 L669.88 366.81 L670.38 366.83 L670.88 366.84 L671.38 366.86 L671.88 366.87 L672.38 366.89 L672.88 366.90 L673.38 366.91 L673.88 366.93 L674.38 366.94 L674.88 366.96 L675.00 366.96 L675.00 370.06 L674.88 370.06 L674.38 370.04 L673.88 370.03 L673.38 370.01 L672.88 370.00 L672.38 369.99 L671.88 369.97 L671.38 369.96 L670.88 369.94 L670.38 369.93 L669.88 369.91 L669.38 369.90 L668.88 369.88 L668.38 369.87 L667.88 369.85 L667.38 369.83 L666.88 369.82 L666.38 369.80 L665.88 369.78 L665.38 369.77 L664.88 369.75 L664.38 369.73 L663.88 369.71 L663.38 369.70 L662.88 369.68 L662.38 369.66 L661.88 369.64 L661.38 369.62 L660.88 369.61 L660.38 369.59 L659.88 369.57 L659.38 369.55 L658.88 369.53 L658.80 369.53Z M680.80 367.10 L680.88 367.10 L681.38 367.11 L681.88 367.13 L682.38 367.14 L682.88 367.15 L683.38 367.16 L683.88 367.17 L684.38 367.18 L684.88 367.19 L684.90 367.19 L684.90 370.29 L684.88 370.29 L684.38 370.28 L683.88 370.27 L683.38 370.26 L682.88 370.25 L682.38 370.24 L681.88 370.23 L681.38 370.21 L680.88 370.20 L680.80 370.20Z M691.60 367.30 L691.62 367.30 L692.12 367.31 L692.62 367.31 L693.12 367.32 L693.62 367.32 L694.12 367.33 L694.62 367.34 L695.12 367.34 L695.62 367.35 L696.12 367.35 L696.62 367.36 L697.12 367.36 L697.62 367.37 L698.12 367.37 L698.62 367.38 L699.12 367.38 L699.62 367.38 L700.12 367.39 L700.62 367.39 L701.12 367.39 L701.62 367.40 L702.12 367.40 L702.62 367.40 L703.12 367.40 L703.62 367.40 L704.12 367.41 L704.62 367.41 L705.12 367.41 L705.62 367.41 L706.12 367.41 L706.62 367.41 L707.12 367.41 L707.62 367.41 L707.80 367.41 L707.80 370.51 L707.62 370.51 L707.12 370.51 L706.62 370.51 L706.12 370.51 L705.62 370.51 L705.12 370.51 L704.62 370.51 L704.12 370.51 L703.62 370.50 L703.12 370.50 L702.62 370.50 L702.12 370.50 L701.62 370.50 L701.12 370.49 L700.62 370.49 L700.12 370.49 L699.62 370.48 L699.12 370.48 L698.62 370.48 L698.12 370.47 L697.62 370.47 L697.12 370.46 L696.62 370.46 L696.12 370.45 L695.62 370.45 L695.12 370.44 L694.62 370.44 L694.12 370.43 L693.62 370.42 L693.12 370.42 L692.62 370.41 L692.12 370.41 L691.62 370.40 L691.60 370.40Z M713.60 367.39 L713.62 367.39 L714.12 367.39 L714.62 367.39 L715.12 367.38 L715.62 367.38 L716.12 367.38 L716.62 367.37 L717.12 367.37 L717.62 367.36 L717.70 367.36 L717.70 370.46 L717.62 370.46 L717.12 370.47 L716.62 370.47 L716.12 370.48 L715.62 370.48 L715.12 370.48 L714.62 370.49 L714.12 370.49 L713.62 370.49 L713.60 370.49Z M724.40 367.27 L724.50 367.27 L725.00 367.26 L725.50 367.25 L726.00 367.24 L726.50 367.23 L727.00 367.22 L727.50 367.21 L728.00 367.20 L728.50 367.19 L729.00 367.18 L729.50 367.17 L730.00 367.15 L730.50 367.14 L731.00 367.13 L731.50 367.12 L732.00 367.10 L732.50 367.09 L733.00 367.07 L733.50 367.06 L734.00 367.05 L734.50 367.03 L735.00 367.02 L735.50 367.00 L736.00 366.98 L736.50 366.97 L737.00 366.95 L737.50 366.93 L738.00 366.92 L738.50 366.90 L739.00 366.88 L739.50 366.86 L740.00 366.84 L740.50 366.82 L740.60 366.82 L740.60 369.92 L740.50 369.92 L740.00 369.94 L739.50 369.96 L739.00 369.98 L738.50 370.00 L738.00 370.02 L737.50 370.03 L737.00 370.05 L736.50 370.07 L736.00 370.08 L735.50 370.10 L735.00 370.12 L734.50 370.13 L734.00 370.15 L733.50 370.16 L733.00 370.17 L732.50 370.19 L732.00 370.20 L731.50 370.22 L731.00 370.23 L730.50 370.24 L730.00 370.25 L729.50 370.27 L729.00 370.28 L728.50 370.29 L728.00 370.30 L727.50 370.31 L727.00 370.32 L726.50 370.33 L726.00 370.34 L725.50 370.35 L725.00 370.36 L724.50 370.37 L724.40 370.37Z M746.40 366.56 L746.50 366.56 L747.00 366.53 L747.50 366.51 L748.00 366.48 L748.50 366.46 L749.00 366.43 L749.50 366.40 L750.00 366.38 L750.50 366.35 L750.50 369.45 L750.00 369.48 L749.50 369.50 L749.00 369.53 L748.50 369.56 L748.00 369.58 L747.50 369.61 L747.00 369.63 L746.50 369.66 L746.40 369.66Z M757.20 365.93 L757.25 365.93 L757.75 365.89 L758.25 365.86 L758.75 365.82 L759.25 365.78 L759.75 365.75 L760.25 365.71 L760.75 365.67 L761.25 365.63 L761.75 365.59 L762.25 365.55 L762.75 365.51 L763.25 365.47 L763.75 365.43 L764.25 365.39 L764.75 365.34 L765.25 365.30 L765.75 365.26 L766.25 365.21 L766.75 365.17 L767.25 365.12 L767.75 365.07 L768.25 365.03 L768.75 364.98 L769.25 364.93 L769.75 364.88 L770.25 364.83 L770.75 364.78 L771.25 364.73 L771.75 364.68 L772.25 364.62 L772.75 364.57 L773.25 364.52 L773.40 364.50 L773.40 367.60 L773.25 367.62 L772.75 367.67 L772.25 367.72 L771.75 367.78 L771.25 367.83 L770.75 367.88 L770.25 367.93 L769.75 367.98 L769.25 368.03 L768.75 368.08 L768.25 368.13 L767.75 368.17 L767.25 368.22 L766.75 368.27 L766.25 368.31 L765.75 368.36 L765.25 368.40 L764.75 368.44 L764.25 368.49 L763.75 368.53 L763.25 368.57 L762.75 368.61 L762.25 368.65 L761.75 368.69 L761.25 368.73 L760.75 368.77 L760.25 368.81 L759.75 368.85 L759.25 368.88 L758.75 368.92 L758.25 368.96 L757.75 368.99 L757.25 369.03 L757.20 369.03Z M779.20 363.81 L779.25 363.81 L779.75 363.74 L780.25 363.68 L780.75 363.61 L781.25 363.55 L781.75 363.48 L782.25 363.41 L782.75 363.34 L783.25 363.27 L783.30 363.26 L783.30 366.36 L783.25 366.37 L782.75 366.44 L782.25 366.51 L781.75 366.58 L781.25 366.65 L780.75 366.71 L780.25 366.78 L779.75 366.84 L779.25 366.91 L779.20 366.91Z M790.00 362.23 L790.12 362.21 L790.62 362.13 L791.12 362.04 L791.62 361.96 L792.12 361.87 L792.62 361.78 L793.12 361.69 L793.62 361.60 L794.12 361.51 L794.62 361.42 L795.12 361.33 L795.62 361.23 L796.12 361.14 L796.62 361.04 L797.12 360.94 L797.62 360.84 L798.12 360.74 L798.62 360.64 L799.12 360.54 L799.62 360.43 L800.12 360.33 L800.62 360.22 L801.12 360.11 L801.62 360.00 L802.12 359.89 L802.62 359.78 L803.12 359.67 L803.62 359.56 L804.12 359.44 L804.62 359.32 L805.12 359.21 L805.62 359.09 L806.12 358.97 L806.20 358.95 L806.20 362.05 L806.12 362.07 L805.62 362.19 L805.12 362.31 L804.62 362.42 L804.12 362.54 L803.62 362.66 L803.12 362.77 L802.62 362.88 L802.12 362.99 L801.62 363.10 L801.12 363.21 L800.62 363.32 L800.12 363.43 L799.62 363.53 L799.12 363.64 L798.62 363.74 L798.12 363.84 L797.62 363.94 L797.12 364.04 L796.62 364.14 L796.12 364.24 L795.62 364.33 L795.12 364.43 L794.62 364.52 L794.12 364.61 L793.62 364.70 L793.12 364.79 L792.62 364.88 L792.12 364.97 L791.62 365.06 L791.12 365.14 L790.62 365.23 L790.12 365.31 L790.00 365.33Z M812.00 357.44 L812.12 357.41 L812.62 357.27 L813.12 357.13 L813.62 356.99 L814.12 356.84 L814.62 356.70 L815.12 356.55 L815.62 356.40 L816.10 356.26 L816.10 359.36 L815.62 359.50 L815.12 359.65 L814.62 359.80 L814.12 359.94 L813.62 360.09 L813.12 360.23 L812.62 360.37 L812.12 360.51 L812.00 360.54Z M822.80 354.08 L822.88 354.05 L823.38 353.88 L823.88 353.70 L824.38 353.52 L824.88 353.34 L825.38 353.16 L825.88 352.97 L826.38 352.79 L826.88 352.60 L827.38 352.41 L827.88 352.21 L828.38 352.02 L828.88 351.82 L829.38 351.62 L829.88 351.42 L830.38 351.22 L830.88 351.02 L831.38 350.81 L831.88 350.60 L832.38 350.39 L832.88 350.18 L833.38 349.96 L833.88 349.75 L834.38 349.53 L834.88 349.30 L835.38 349.08 L835.88 348.85 L836.38 348.63 L836.88 348.40 L837.38 348.16 L837.88 347.93 L838.38 347.69 L838.88 347.45 L839.00 347.39 L839.00 350.49 L838.88 350.55 L838.38 350.79 L837.88 351.03 L837.38 351.26 L836.88 351.50 L836.38 351.73 L835.88 351.95 L835.38 352.18 L834.88 352.40 L834.38 352.63 L833.88 352.85 L833.38 353.06 L832.88 353.28 L832.38 353.49 L831.88 353.70 L831.38 353.91 L830.88 354.12 L830.38 354.32 L829.88 354.52 L829.38 354.72 L828.88 354.92 L828.38 355.12 L827.88 355.31 L827.38 355.51 L826.88 355.70 L826.38 355.89 L825.88 356.07 L825.38 356.26 L824.88 356.44 L824.38 356.62 L823.88 356.80 L823.38 356.98 L822.88 357.15 L822.80 357.18Z M844.80 344.43 L844.88 344.39 L845.38 344.12 L845.88 343.85 L846.38 343.57 L846.88 343.29 L847.38 343.01 L847.88 342.73 L848.38 342.44 L848.88 342.15 L848.90 342.14 L848.90 345.24 L848.88 345.25 L848.38 345.54 L847.88 345.83 L847.38 346.11 L846.88 346.39 L846.38 346.67 L845.88 346.95 L845.38 347.22 L844.88 347.49 L844.80 347.53Z M855.60 338.01 L855.62 337.99 L856.12 337.66 L856.62 337.33 L857.12 337.00 L857.62 336.66 L858.12 336.32 L858.62 335.98 L859.12 335.63 L859.62 335.29 L860.12 334.93 L860.62 334.58 L861.12 334.22 L861.62 333.86 L862.12 333.50 L862.62 333.13 L863.12 332.77 L863.62 332.39 L864.12 332.02 L864.62 331.64 L865.12 331.26 L865.62 330.87 L866.12 330.49 L866.62 330.10 L867.12 329.70 L867.62 329.31 L868.12 328.91 L868.62 328.50 L869.12 328.10 L869.62 327.69 L870.12 327.28 L870.62 326.86 L871.12 326.44 L871.62 326.02 L871.80 325.87 L871.80 328.97 L871.62 329.12 L871.12 329.54 L870.62 329.96 L870.12 330.38 L869.62 330.79 L869.12 331.20 L868.62 331.60 L868.12 332.01 L867.62 332.41 L867.12 332.80 L866.62 333.20 L866.12 333.59 L865.62 333.97 L865.12 334.36 L864.62 334.74 L864.12 335.12 L863.62 335.49 L863.12 335.87 L862.62 336.23 L862.12 336.60 L861.62 336.96 L861.12 337.32 L860.62 337.68 L860.12 338.03 L859.62 338.39 L859.12 338.73 L858.62 339.08 L858.12 339.42 L857.62 339.76 L857.12 340.10 L856.62 340.43 L856.12 340.76 L855.62 341.09 L855.60 341.11Z M877.60 320.73 L877.62 320.71 L878.12 320.25 L878.62 319.78 L879.12 319.31 L879.62 318.84 L880.12 318.36 L880.62 317.88 L881.12 317.39 L881.62 316.91 L881.70 316.83 L881.70 319.93 L881.62 320.01 L881.12 320.49 L880.62 320.98 L880.12 321.46 L879.62 321.94 L879.12 322.41 L878.62 322.88 L878.12 323.35 L877.62 323.81 L877.60 323.83Z M886.69 311.70 L886.70 311.69 L887.20 311.16 L887.70 310.62 L888.20 310.08 L888.70 309.53 L889.20 308.98 L889.70 308.43 L890.20 307.88 L890.70 307.32 L891.20 306.76 L891.70 306.19 L892.20 305.62 L892.70 305.05 L893.20 304.48 L893.70 303.90 L894.20 303.32 L894.70 302.73 L895.20 302.14 L895.70 301.55 L896.20 300.96 L896.70 300.36 L897.20 299.76 L897.70 299.15 L898.20 298.54 L898.70 297.93 L899.20 297.31 L899.70 296.70 L900.20 296.07 L900.66 295.50 L903.76 295.50 L903.30 296.07 L902.80 296.70 L902.30 297.31 L901.80 297.93 L901.30 298.54 L900.80 299.15 L900.30 299.76 L899.80 300.36 L899.30 300.96 L898.80 301.55 L898.30 302.14 L897.80 302.73 L897.30 303.32 L896.80 303.90 L896.30 304.48 L895.80 305.05 L895.30 305.62 L894.80 306.19 L894.30 306.76 L893.80 307.32 L893.30 307.88 L892.80 308.43 L892.30 308.98 L891.80 309.53 L891.30 310.08 L890.80 310.62 L890.30 311.16 L889.80 311.69 L889.79 311.70Z M905.18 289.70 L905.20 289.67 L905.70 289.01 L906.20 288.35 L906.70 287.69 L907.20 287.02 L907.70 286.35 L908.20 285.68 L908.25 285.60 L911.35 285.60 L911.30 285.68 L910.80 286.35 L910.30 287.02 L909.80 287.69 L909.30 288.35 L908.80 289.01 L908.30 289.67 L908.28 289.70Z M913.10 278.90 L913.20 278.76 L913.70 278.05 L914.20 277.34 L914.70 276.62 L915.20 275.90 L915.70 275.18 L916.20 274.46 L916.70 273.73 L917.20 273.00 L917.70 272.27 L918.20 271.53 L918.70 270.79 L919.20 270.05 L919.70 269.30 L920.20 268.55 L920.70 267.80 L921.20 267.05 L921.70 266.29 L922.20 265.53 L922.70 264.77 L923.20 264.00 L923.70 263.23 L924.04 262.70 L927.14 262.70 L926.80 263.23 L926.30 264.00 L925.80 264.77 L925.30 265.53 L924.80 266.29 L924.30 267.05 L923.80 267.80 L923.30 268.55 L922.80 269.30 L922.30 270.05 L921.80 270.79 L921.30 271.53 L920.80 272.27 L920.30 273.00 L919.80 273.73 L919.30 274.46 L918.80 275.18 L918.30 275.90 L917.80 276.62 L917.30 277.34 L916.80 278.05 L916.30 278.76 L916.20 278.90Z M927.75 256.90 L927.83 256.78 L928.33 255.98 L928.83 255.19 L929.33 254.39 L929.83 253.58 L930.31 252.80 L933.41 252.80 L932.92 253.58 L932.42 254.39 L931.92 255.19 L931.42 255.98 L930.92 256.78 L930.85 256.90Z M934.41 246.10 L934.45 246.03 L934.95 245.20 L935.45 244.37 L935.95 243.53 L936.45 242.70 L936.95 241.86 L937.45 241.01 L937.95 240.17 L938.45 239.32 L938.95 238.47 L939.45 237.62 L939.95 236.76 L940.45 235.91 L940.95 235.05 L941.45 234.19 L941.95 233.32 L942.45 232.46 L942.95 231.59 L943.45 230.72 L943.92 229.90 L947.02 229.90 L946.55 230.72 L946.05 231.59 L945.55 232.46 L945.05 233.32 L944.55 234.19 L944.05 235.05 L943.55 235.91 L943.05 236.76 L942.55 237.62 L942.05 238.47 L941.55 239.32 L941.05 240.17 L940.55 241.01 L940.05 241.86 L939.55 242.70 L939.05 243.53 L938.55 244.37 L938.05 245.20 L937.55 246.03 L937.51 246.10Z M947.21 224.10 L947.33 223.89 L947.83 223.00 L948.33 222.11 L948.83 221.21 L949.33 220.32 L949.50 220.00 L952.60 220.00 L952.42 220.32 L951.92 221.21 L951.42 222.11 L950.92 223.00 L950.42 223.89 L950.31 224.10Z M953.20 213.30 L953.20 213.30 L953.70 212.39 L954.20 211.47 L954.70 210.55 L955.20 209.63 L955.70 208.71 L956.20 207.79 L956.70 206.86 L957.20 205.93 L957.70 205.00 L958.20 204.07 L958.70 203.14 L959.20 202.20 L959.70 201.27 L960.20 200.33 L960.70 199.39 L961.20 198.45 L961.70 197.50 L961.91 197.10 L965.01 197.10 L964.80 197.50 L964.30 198.45 L963.80 199.39 L963.30 200.33 L962.80 201.27 L962.30 202.20 L961.80 203.14 L961.30 204.07 L960.80 205.00 L960.30 205.93 L959.80 206.86 L959.30 207.79 L958.80 208.71 L958.30 209.63 L957.80 210.55 L957.30 211.47 L956.80 212.39 L956.30 213.30 L956.30 213.30Z M964.96 191.30 L965.08 191.09 L965.58 190.13 L966.08 189.17 L966.58 188.21 L967.08 187.25 L967.10 187.20 L970.20 187.20 L970.17 187.25 L969.67 188.21 L969.17 189.17 L968.67 190.13 L968.17 191.09 L968.06 191.30Z M970.56 180.50 L970.58 180.48 L971.08 179.51 L971.58 178.53 L972.08 177.56 L972.58 176.58 L973.08 175.60 L973.58 174.62 L974.08 173.64 L974.58 172.65 L975.08 171.67 L975.58 170.68 L976.08 169.70 L976.58 168.71 L977.08 167.72 L977.58 166.73 L978.08 165.73 L978.58 164.74 L978.79 164.30 L981.89 164.30 L981.67 164.74 L981.17 165.73 L980.67 166.73 L980.17 167.72 L979.67 168.71 L979.17 169.70 L978.67 170.68 L978.17 171.67 L977.67 172.65 L977.17 173.64 L976.67 174.62 L976.17 175.60 L975.67 176.58 L975.17 177.56 L974.67 178.53 L974.17 179.51 L973.67 180.48 L973.66 180.50Z M981.70 158.50 L981.70 158.50 L982.20 157.50 L982.70 156.49 L983.20 155.49 L983.70 154.48 L983.74 154.40 L986.84 154.40 L986.80 154.48 L986.30 155.49 L985.80 156.49 L985.30 157.50 L984.80 158.50 L984.80 158.50Z M987.05 147.70 L987.08 147.66 L987.58 146.65 L988.08 145.63 L988.58 144.61 L989.08 143.60 L989.58 142.58 L990.08 141.56 L990.58 140.54 L991.08 139.51 L991.58 138.49 L992.08 137.47 L992.58 136.44 L993.08 135.42 L993.58 134.39 L994.08 133.36 L994.45 132.59 L997.55 132.59 L997.17 133.36 L996.67 134.39 L996.17 135.42 L995.67 136.44 L995.17 137.47 L994.67 138.49 L994.17 139.51 L993.67 140.54 L993.17 141.56 L992.67 142.58 L992.17 143.60 L991.67 144.61 L991.17 145.63 L990.67 146.65 L990.17 147.66 L990.15 147.70Z" fill="#de00d0"/>
<path id="c4" d="M133.00 99.85 L133.12 99.92 L133.62 100.19 L134.12 100.45 L134.62 100.72 L135.12 100.99 L135.62 101.26 L136.12 101.52 L136.62 101.79 L137.12 102.06 L137.62 102.32 L138.12 102.59 L138.62 102.86 L139.12 103.12 L139.62 103.39 L140.12 103.66 L140.62 103.93 L141.12 104.19 L141.62 104.46 L142.12 104.73 L142.62 104.99 L143.12 105.26 L143.62 105.53 L144.12 105.79 L144.62 106.06 L145.12 106.33 L145.62 106.59 L146.12 106.86 L146.62 107.13 L147.12 107.40 L147.62 107.66 L148.12 107.93 L148.62 108.20 L149.12 108.46 L149.62 108.73 L150.12 109.00 L150.62 109.26 L151.12 109.53 L151.62 109.80 L152.12 110.06 L152.62 110.33 L153.12 110.60 L153.30 110.69 L153.30 114.49 L153.12 114.40 L152.62 114.13 L152.12 113.86 L151.62 113.60 L151.12 113.33 L150.62 113.06 L150.12 112.80 L149.62 112.53 L149.12 112.26 L148.62 112.00 L148.12 111.73 L147.62 111.46 L147.12 111.20 L146.62 110.93 L146.12 110.66 L145.62 110.39 L145.12 110.13 L144.62 109.86 L144.12 109.59 L143.62 109.33 L143.12 109.06 L142.62 108.79 L142.12 108.53 L141.62 108.26 L141.12 107.99 L140.62 107.73 L140.12 107.46 L139.62 107.19 L139.12 106.92 L138.62 106.66 L138.12 106.39 L137.62 106.12 L137.12 105.86 L136.62 105.59 L136.12 105.32 L135.62 105.06 L135.12 104.79 L134.62 104.52 L134.12 104.25 L133.62 103.99 L133.12 103.72 L133.00 103.65Z M165.85 117.38 L165.88 117.40 L166.38 117.66 L166.88 117.93 L167.38 118.20 L167.88 118.46 L168.38 118.73 L168.88 119.00 L169.38 119.26 L169.88 119.53 L170.38 119.80 L170.88 120.06 L171.38 120.33 L171.88 120.60 L172.38 120.86 L172.88 121.13 L173.38 121.40 L173.88 121.66 L174.38 121.93 L174.88 122.20 L175.38 122.46 L175.88 122.73 L176.38 122.99 L176.88 123.26 L177.38 123.53 L177.88 123.79 L178.38 124.06 L178.88 124.33 L179.38 124.59 L179.88 124.86 L180.38 125.13 L180.88 125.39 L181.38 125.66 L181.88 125.93 L182.38 126.19 L182.88 126.46 L183.38 126.72 L183.88 126.99 L184.38 127.26 L184.88 127.52 L185.38 127.79 L185.88 128.06 L186.15 128.20 L186.15 132.00 L185.88 131.86 L185.38 131.59 L184.88 131.32 L184.38 131.06 L183.88 130.79 L183.38 130.52 L182.88 130.26 L182.38 129.99 L181.88 129.73 L181.38 129.46 L180.88 129.19 L180.38 128.93 L179.88 128.66 L179.38 128.39 L178.88 128.13 L178.38 127.86 L177.88 127.59 L177.38 127.33 L176.88 127.06 L176.38 126.79 L175.88 126.53 L175.38 126.26 L174.88 126.00 L174.38 125.73 L173.88 125.46 L173.38 125.20 L172.88 124.93 L172.38 124.66 L171.88 124.40 L171.38 124.13 L170.88 123.86 L170.38 123.60 L169.88 123.33 L169.38 123.06 L168.88 122.80 L168.38 122.53 L167.88 122.26 L167.38 122.00 L166.88 121.73 L166.38 121.46 L165.88 121.20 L165.85 121.18Z M198.70 134.89 L198.75 134.91 L199.25 135.18 L199.75 135.44 L200.25 135.71 L200.75 135.98 L201.25 136.24 L201.75 136.51 L202.25 136.78 L202.75 137.04 L203.25 137.31 L203.75 137.57 L204.25 137.84 L204.75 138.11 L205.25 138.37 L205.75 138.64 L206.25 138.90 L206.75 139.17 L207.25 139.44 L207.75 139.70 L208.25 139.97 L208.75 140.23 L209.25 140.50 L209.75 140.77 L210.25 141.03 L210.75 141.30 L211.25 141.56 L211.75 141.83 L212.25 142.10 L212.75 142.36 L213.25 142.63 L213.75 142.89 L214.25 143.16 L214.75 143.43 L215.25 143.69 L215.75 143.96 L216.25 144.22 L216.75 144.49 L217.25 144.76 L217.75 145.02 L218.25 145.29 L218.75 145.55 L219.00 145.69 L219.00 149.49 L218.75 149.35 L218.25 149.09 L217.75 148.82 L217.25 148.56 L216.75 148.29 L216.25 148.02 L215.75 147.76 L215.25 147.49 L214.75 147.23 L214.25 146.96 L213.75 146.69 L213.25 146.43 L212.75 146.16 L212.25 145.90 L211.75 145.63 L211.25 145.36 L210.75 145.10 L210.25 144.83 L209.75 144.57 L209.25 144.30 L208.75 144.03 L208.25 143.77 L207.75 143.50 L207.25 143.24 L206.75 142.97 L206.25 142.70 L205.75 142.44 L205.25 142.17 L204.75 141.91 L204.25 141.64 L203.75 141.37 L203.25 141.11 L202.75 140.84 L202.25 140.58 L201.75 140.31 L201.25 140.04 L200.75 139.78 L200.25 139.51 L199.75 139.24 L199.25 138.98 L198.75 138.71 L198.70 138.69Z M231.55 152.36 L231.62 152.40 L232.12 152.66 L232.62 152.93 L233.12 153.20 L233.62 153.46 L234.12 153.73 L234.62 153.99 L235.12 154.26 L235.62 154.52 L236.12 154.79 L236.62 155.06 L237.12 155.32 L237.62 155.59 L238.12 155.85 L238.62 156.12 L239.12 156.38 L239.62 156.65 L240.12 156.91 L240.62 157.18 L241.12 157.45 L241.62 157.71 L242.12 157.98 L242.62 158.24 L243.12 158.51 L243.62 158.77 L244.12 159.04 L244.62 159.30 L245.12 159.57 L245.62 159.84 L246.12 160.10 L246.62 160.37 L247.12 160.63 L247.62 160.90 L248.12 161.16 L248.62 161.43 L249.12 161.69 L249.62 161.96 L250.12 162.23 L250.62 162.49 L251.12 162.76 L251.62 163.02 L251.85 163.14 L251.85 166.94 L251.62 166.82 L251.12 166.56 L250.62 166.29 L250.12 166.03 L249.62 165.76 L249.12 165.49 L248.62 165.23 L248.12 164.96 L247.62 164.70 L247.12 164.43 L246.62 164.17 L246.12 163.90 L245.62 163.64 L245.12 163.37 L244.62 163.10 L244.12 162.84 L243.62 162.57 L243.12 162.31 L242.62 162.04 L242.12 161.78 L241.62 161.51 L241.12 161.25 L240.62 160.98 L240.12 160.71 L239.62 160.45 L239.12 160.18 L238.62 159.92 L238.12 159.65 L237.62 159.39 L237.12 159.12 L236.62 158.86 L236.12 158.59 L235.62 158.32 L235.12 158.06 L234.62 157.79 L234.12 157.53 L233.62 157.26 L233.12 157.00 L232.62 156.73 L232.12 156.46 L231.62 156.20 L231.55 156.16Z M264.40 169.80 L264.50 169.86 L265.00 170.12 L265.50 170.39 L266.00 170.65 L266.50 170.92 L267.00 171.18 L267.50 171.45 L268.00 171.71 L268.50 171.98 L269.00 172.24 L269.50 172.51 L270.00 172.77 L270.50 173.04 L271.00 173.30 L271.50 173.57 L272.00 173.83 L272.50 174.10 L273.00 174.36 L273.50 174.63 L274.00 174.89 L274.50 175.16 L275.00 175.42 L275.50 175.69 L276.00 175.95 L276.50 176.22 L277.00 176.49 L277.50 176.75 L278.00 177.02 L278.50 177.28 L279.00 177.55 L279.50 177.81 L280.00 178.08 L280.50 178.34 L281.00 178.61 L281.50 178.87 L282.00 179.14 L282.50 179.40 L283.00 179.67 L283.50 179.93 L284.00 180.20 L284.50 180.46 L284.70 180.57 L284.70 184.37 L284.50 184.26 L284.00 184.00 L283.50 183.73 L283.00 183.47 L282.50 183.20 L282.00 182.94 L281.50 182.67 L281.00 182.41 L280.50 182.14 L280.00 181.88 L279.50 181.61 L279.00 181.35 L278.50 181.08 L278.00 180.82 L277.50 180.55 L277.00 180.29 L276.50 180.02 L276.00 179.75 L275.50 179.49 L275.00 179.22 L274.50 178.96 L274.00 178.69 L273.50 178.43 L273.00 178.16 L272.50 177.90 L272.00 177.63 L271.50 177.37 L271.00 177.10 L270.50 176.84 L270.00 176.57 L269.50 176.31 L269.00 176.04 L268.50 175.78 L268.00 175.51 L267.50 175.25 L267.00 174.98 L266.50 174.72 L266.00 174.45 L265.50 174.19 L265.00 173.92 L264.50 173.66 L264.40 173.60Z M297.25 187.22 L297.38 187.28 L297.88 187.55 L298.38 187.81 L298.88 188.08 L299.38 188.34 L299.88 188.61 L300.38 188.87 L300.88 189.14 L301.38 189.40 L301.88 189.67 L302.38 189.93 L302.88 190.20 L303.38 190.46 L303.88 190.73 L304.38 190.99 L304.88 191.26 L305.38 191.52 L305.88 191.78 L306.38 192.05 L306.88 192.31 L307.38 192.58 L307.88 192.84 L308.38 193.11 L308.88 193.37 L309.38 193.64 L309.88 193.90 L310.38 194.17 L310.88 194.43 L311.38 194.70 L311.88 194.96 L312.38 195.23 L312.88 195.49 L313.38 195.75 L313.88 196.02 L314.38 196.28 L314.88 196.55 L315.38 196.81 L315.88 197.08 L316.38 197.34 L316.88 197.61 L317.38 197.87 L317.55 197.96 L317.55 201.76 L317.38 201.67 L316.88 201.41 L316.38 201.14 L315.88 200.88 L315.38 200.61 L314.88 200.35 L314.38 200.08 L313.88 199.82 L313.38 199.55 L312.88 199.29 L312.38 199.03 L311.88 198.76 L311.38 198.50 L310.88 198.23 L310.38 197.97 L309.88 197.70 L309.38 197.44 L308.88 197.17 L308.38 196.91 L307.88 196.64 L307.38 196.38 L306.88 196.11 L306.38 195.85 L305.88 195.58 L305.38 195.32 L304.88 195.06 L304.38 194.79 L303.88 194.53 L303.38 194.26 L302.88 194.00 L302.38 193.73 L301.88 193.47 L301.38 193.20 L300.88 192.94 L300.38 192.67 L299.88 192.41 L299.38 192.14 L298.88 191.88 L298.38 191.61 L297.88 191.35 L297.38 191.08 L297.25 191.02Z M330.10 204.60 L330.12 204.62 L330.62 204.88 L331.12 205.14 L331.62 205.41 L332.12 205.67 L332.62 205.94 L333.12 206.20 L333.62 206.47 L334.12 206.73 L334.62 207.00 L335.12 207.26 L335.62 207.52 L336.12 207.79 L336.62 208.05 L337.12 208.32 L337.62 208.58 L338.12 208.85 L338.62 209.11 L339.12 209.37 L339.62 209.64 L340.12 209.90 L340.62 210.17 L341.12 210.43 L341.62 210.70 L342.12 210.96 L342.62 211.22 L343.12 211.49 L343.62 211.75 L344.12 212.02 L344.62 212.28 L345.12 212.55 L345.62 212.81 L346.12 213.07 L346.62 213.34 L347.12 213.60 L347.62 213.87 L348.12 214.13 L348.62 214.39 L349.12 214.66 L349.62 214.92 L350.12 215.19 L350.40 215.33 L350.40 219.13 L350.12 218.99 L349.62 218.72 L349.12 218.46 L348.62 218.19 L348.12 217.93 L347.62 217.67 L347.12 217.40 L346.62 217.14 L346.12 216.87 L345.62 216.61 L345.12 216.35 L344.62 216.08 L344.12 215.82 L343.62 215.55 L343.12 215.29 L342.62 215.02 L342.12 214.76 L341.62 214.50 L341.12 214.23 L340.62 213.97 L340.12 213.70 L339.62 213.44 L339.12 213.17 L338.62 212.91 L338.12 212.65 L337.62 212.38 L337.12 212.12 L336.62 211.85 L336.12 211.59 L335.62 211.32 L335.12 211.06 L334.62 210.80 L334.12 210.53 L333.62 210.27 L333.12 210.00 L332.62 209.74 L332.12 209.47 L331.62 209.21 L331.12 208.94 L330.62 208.68 L330.12 208.42 L330.10 208.40Z M362.95 221.96 L363.00 221.99 L363.50 222.25 L364.00 222.51 L364.50 222.78 L365.00 223.04 L365.50 223.31 L366.00 223.57 L366.50 223.83 L367.00 224.10 L367.50 224.36 L368.00 224.63 L368.50 224.89 L369.00 225.15 L369.50 225.42 L370.00 225.68 L370.50 225.94 L371.00 226.21 L371.50 226.47 L372.00 226.74 L372.50 227.00 L373.00 227.26 L373.50 227.53 L374.00 227.79 L374.50 228.06 L375.00 228.32 L375.50 228.58 L376.00 228.85 L376.50 229.11 L377.00 229.37 L377.50 229.64 L378.00 229.90 L378.50 230.17 L379.00 230.43 L379.50 230.69 L380.00 230.96 L380.50 231.22 L381.00 231.48 L381.50 231.75 L382.00 232.01 L382.50 232.28 L383.00 232.54 L383.25 232.67 L383.25 236.47 L383.00 236.34 L382.50 236.08 L382.00 235.81 L381.50 235.55 L381.00 235.28 L380.50 235.02 L380.00 234.76 L379.50 234.49 L379.00 234.23 L378.50 233.97 L378.00 233.70 L377.50 233.44 L377.00 233.17 L376.50 232.91 L376.00 232.65 L375.50 232.38 L375.00 232.12 L374.50 231.86 L374.00 231.59 L373.50 231.33 L373.00 231.06 L372.50 230.80 L372.00 230.54 L371.50 230.27 L371.00 230.01 L370.50 229.74 L370.00 229.48 L369.50 229.22 L369.00 228.95 L368.50 228.69 L368.00 228.43 L367.50 228.16 L367.00 227.90 L366.50 227.63 L366.00 227.37 L365.50 227.11 L365.00 226.84 L364.50 226.58 L364.00 226.31 L363.50 226.05 L363.00 225.79 L362.95 225.76Z M395.80 239.29 L395.88 239.33 L396.38 239.59 L396.88 239.85 L397.38 240.12 L397.88 240.38 L398.38 240.64 L398.88 240.91 L399.38 241.17 L399.88 241.44 L400.38 241.70 L400.88 241.96 L401.38 242.23 L401.88 242.49 L402.38 242.75 L402.88 243.02 L403.38 243.28 L403.88 243.54 L404.38 243.81 L404.88 244.07 L405.38 244.33 L405.88 244.60 L406.38 244.86 L406.88 245.12 L407.38 245.39 L407.88 245.65 L408.38 245.91 L408.88 246.18 L409.38 246.44 L409.88 246.70 L410.38 246.97 L410.88 247.23 L411.38 247.49 L411.88 247.76 L412.38 248.02 L412.88 248.28 L413.38 248.55 L413.88 248.81 L414.38 249.07 L414.88 249.34 L415.38 249.60 L415.88 249.86 L416.10 249.98 L416.10 253.78 L415.88 253.66 L415.38 253.40 L414.88 253.14 L414.38 252.87 L413.88 252.61 L413.38 252.35 L412.88 252.08 L412.38 251.82 L411.88 251.56 L411.38 251.29 L410.88 251.03 L410.38 250.77 L409.88 250.50 L409.38 250.24 L408.88 249.98 L408.38 249.71 L407.88 249.45 L407.38 249.19 L406.88 248.92 L406.38 248.66 L405.88 248.40 L405.38 248.13 L404.88 247.87 L404.38 247.61 L403.88 247.34 L403.38 247.08 L402.88 246.82 L402.38 246.55 L401.88 246.29 L401.38 246.03 L400.88 245.76 L400.38 245.50 L399.88 245.24 L399.38 244.97 L398.88 244.71 L398.38 244.44 L397.88 244.18 L397.38 243.92 L396.88 243.65 L396.38 243.39 L395.88 243.13 L395.80 243.09Z M428.65 256.59 L428.75 256.64 L429.25 256.90 L429.75 257.17 L430.25 257.43 L430.75 257.69 L431.25 257.95 L431.75 258.22 L432.25 258.48 L432.75 258.74 L433.25 259.01 L433.75 259.27 L434.25 259.53 L434.75 259.80 L435.25 260.06 L435.75 260.32 L436.25 260.58 L436.75 260.85 L437.25 261.11 L437.75 261.37 L438.25 261.64 L438.75 261.90 L439.25 262.16 L439.75 262.43 L440.25 262.69 L440.75 262.95 L441.25 263.21 L441.75 263.48 L442.25 263.74 L442.75 264.00 L443.25 264.27 L443.75 264.53 L444.25 264.79 L444.75 265.05 L445.25 265.32 L445.75 265.58 L446.25 265.84 L446.75 266.11 L447.25 266.37 L447.75 266.63 L448.25 266.89 L448.75 267.16 L448.95 267.26 L448.95 271.06 L448.75 270.96 L448.25 270.69 L447.75 270.43 L447.25 270.17 L446.75 269.91 L446.25 269.64 L445.75 269.38 L445.25 269.12 L444.75 268.85 L444.25 268.59 L443.75 268.33 L443.25 268.07 L442.75 267.80 L442.25 267.54 L441.75 267.28 L441.25 267.01 L440.75 266.75 L440.25 266.49 L439.75 266.23 L439.25 265.96 L438.75 265.70 L438.25 265.44 L437.75 265.17 L437.25 264.91 L436.75 264.65 L436.25 264.38 L435.75 264.12 L435.25 263.86 L434.75 263.60 L434.25 263.33 L433.75 263.07 L433.25 262.81 L432.75 262.54 L432.25 262.28 L431.75 262.02 L431.25 261.75 L430.75 261.49 L430.25 261.23 L429.75 260.97 L429.25 260.70 L428.75 260.44 L428.65 260.39Z M461.50 273.86 L461.62 273.92 L462.12 274.19 L462.62 274.45 L463.12 274.71 L463.62 274.97 L464.12 275.24 L464.62 275.50 L465.12 275.76 L465.62 276.02 L466.12 276.29 L466.62 276.55 L467.12 276.81 L467.62 277.07 L468.12 277.34 L468.62 277.60 L469.12 277.86 L469.62 278.12 L470.12 278.39 L470.62 278.65 L471.12 278.91 L471.62 279.17 L472.12 279.44 L472.62 279.70 L473.12 279.96 L473.62 280.22 L474.12 280.49 L474.62 280.75 L475.12 281.01 L475.62 281.27 L476.12 281.54 L476.62 281.80 L477.12 282.06 L477.62 282.32 L478.12 282.59 L478.62 282.85 L479.12 283.11 L479.62 283.37 L480.12 283.64 L480.62 283.90 L481.12 284.16 L481.62 284.42 L481.80 284.51 L481.80 288.31 L481.62 288.22 L481.12 287.96 L480.62 287.70 L480.12 287.44 L479.62 287.17 L479.12 286.91 L478.62 286.65 L478.12 286.39 L477.62 286.12 L477.12 285.86 L476.62 285.60 L476.12 285.34 L475.62 285.07 L475.12 284.81 L474.62 284.55 L474.12 284.29 L473.62 284.02 L473.12 283.76 L472.62 283.50 L472.12 283.24 L471.62 282.97 L471.12 282.71 L470.62 282.45 L470.12 282.19 L469.62 281.92 L469.12 281.66 L468.62 281.40 L468.12 281.14 L467.62 280.87 L467.12 280.61 L466.62 280.35 L466.12 280.09 L465.62 279.82 L465.12 279.56 L464.62 279.30 L464.12 279.04 L463.62 278.77 L463.12 278.51 L462.62 278.25 L462.12 277.99 L461.62 277.72 L461.50 277.66Z M494.35 291.10 L494.38 291.11 L494.88 291.37 L495.38 291.64 L495.88 291.90 L496.38 292.16 L496.88 292.42 L497.38 292.68 L497.88 292.95 L498.38 293.21 L498.88 293.47 L499.38 293.73 L499.88 294.00 L500.38 294.26 L500.88 294.52 L501.38 294.78 L501.88 295.04 L502.38 295.31 L502.88 295.57 L503.38 295.83 L503.88 296.09 L504.38 296.35 L504.88 296.62 L505.38 296.88 L505.88 297.14 L506.38 297.40 L506.88 297.66 L507.38 297.93 L507.88 298.19 L508.38 298.45 L508.88 298.71 L509.38 298.97 L509.88 299.24 L510.38 299.50 L510.88 299.76 L511.38 300.02 L511.88 300.28 L512.38 300.55 L512.88 300.81 L513.38 301.07 L513.88 301.33 L514.38 301.59 L514.65 301.74 L514.65 305.54 L514.38 305.39 L513.88 305.13 L513.38 304.87 L512.88 304.61 L512.38 304.35 L511.88 304.08 L511.38 303.82 L510.88 303.56 L510.38 303.30 L509.88 303.04 L509.38 302.77 L508.88 302.51 L508.38 302.25 L507.88 301.99 L507.38 301.73 L506.88 301.46 L506.38 301.20 L505.88 300.94 L505.38 300.68 L504.88 300.42 L504.38 300.15 L503.88 299.89 L503.38 299.63 L502.88 299.37 L502.38 299.11 L501.88 298.84 L501.38 298.58 L500.88 298.32 L500.38 298.06 L499.88 297.80 L499.38 297.53 L498.88 297.27 L498.38 297.01 L497.88 296.75 L497.38 296.48 L496.88 296.22 L496.38 295.96 L495.88 295.70 L495.38 295.44 L494.88 295.17 L494.38 294.91 L494.35 294.90Z M527.20 308.31 L527.25 308.34 L527.75 308.60 L528.25 308.86 L528.75 309.12 L529.25 309.38 L529.75 309.65 L530.25 309.91 L530.75 310.17 L531.25 310.43 L531.75 310.69 L532.25 310.95 L532.75 311.22 L533.25 311.48 L533.75 311.74 L534.25 312.00 L534.75 312.26 L535.25 312.52 L535.75 312.79 L536.25 313.05 L536.75 313.31 L537.25 313.57 L537.75 313.83 L538.25 314.09 L538.75 314.36 L539.25 314.62 L539.75 314.88 L540.25 315.14 L540.75 315.40 L541.25 315.66 L541.75 315.92 L542.25 316.19 L542.75 316.45 L543.25 316.71 L543.75 316.97 L544.25 317.23 L544.75 317.49 L545.25 317.76 L545.75 318.02 L546.25 318.28 L546.75 318.54 L547.25 318.80 L547.50 318.93 L547.50 322.73 L547.25 322.60 L546.75 322.34 L546.25 322.08 L545.75 321.82 L545.25 321.56 L544.75 321.29 L544.25 321.03 L543.75 320.77 L543.25 320.51 L542.75 320.25 L542.25 319.99 L541.75 319.72 L541.25 319.46 L540.75 319.20 L540.25 318.94 L539.75 318.68 L539.25 318.42 L538.75 318.16 L538.25 317.89 L537.75 317.63 L537.25 317.37 L536.75 317.11 L536.25 316.85 L535.75 316.59 L535.25 316.32 L534.75 316.06 L534.25 315.80 L533.75 315.54 L533.25 315.28 L532.75 315.02 L532.25 314.75 L531.75 314.49 L531.25 314.23 L530.75 313.97 L530.25 313.71 L529.75 313.45 L529.25 313.18 L528.75 312.92 L528.25 312.66 L527.75 312.40 L527.25 312.14 L527.20 312.11Z M560.05 325.49 L560.12 325.53 L560.62 325.79 L561.12 326.06 L561.62 326.32 L562.12 326.58 L562.62 326.84 L563.12 327.10 L563.62 327.36 L564.12 327.62 L564.62 327.88 L565.12 328.15 L565.62 328.41 L566.12 328.67 L566.62 328.93 L567.12 329.19 L567.62 329.45 L568.12 329.71 L568.62 329.97 L569.12 330.24 L569.62 330.50 L570.12 330.76 L570.62 331.02 L571.12 331.28 L571.62 331.54 L572.12 331.80 L572.62 332.06 L573.12 332.33 L573.62 332.59 L574.12 332.85 L574.62 333.11 L575.12 333.37 L575.62 333.63 L576.12 333.89 L576.62 334.15 L577.12 334.41 L577.62 334.68 L578.12 334.94 L578.62 335.20 L579.12 335.46 L579.62 335.72 L580.12 335.98 L580.35 336.10 L580.35 339.90 L580.12 339.78 L579.62 339.52 L579.12 339.26 L578.62 339.00 L578.12 338.74 L577.62 338.48 L577.12 338.21 L576.62 337.95 L576.12 337.69 L575.62 337.43 L575.12 337.17 L574.62 336.91 L574.12 336.65 L573.62 336.39 L573.12 336.13 L572.62 335.86 L572.12 335.60 L571.62 335.34 L571.12 335.08 L570.62 334.82 L570.12 334.56 L569.62 334.30 L569.12 334.04 L568.62 333.77 L568.12 333.51 L567.62 333.25 L567.12 332.99 L566.62 332.73 L566.12 332.47 L565.62 332.21 L565.12 331.95 L564.62 331.68 L564.12 331.42 L563.62 331.16 L563.12 330.90 L562.62 330.64 L562.12 330.38 L561.62 330.12 L561.12 329.86 L560.62 329.59 L560.12 329.33 L560.05 329.29Z M592.90 342.65 L593.00 342.70 L593.50 342.96 L594.00 343.22 L594.50 343.48 L595.00 343.74 L595.50 344.00 L596.00 344.27 L596.50 344.53 L597.00 344.79 L597.50 345.05 L598.00 345.31 L598.50 345.57 L599.00 345.83 L599.50 346.09 L600.00 346.35 L600.50 346.61 L601.00 346.87 L601.50 347.13 L602.00 347.40 L602.50 347.66 L603.00 347.92 L603.50 348.18 L604.00 348.44 L604.50 348.70 L605.00 348.96 L605.50 349.22 L606.00 349.48 L606.50 349.74 L607.00 350.00 L607.50 350.26 L608.00 350.52 L608.50 350.78 L609.00 351.05 L609.50 351.31 L610.00 351.57 L610.50 351.83 L611.00 352.09 L611.50 352.35 L612.00 352.61 L612.50 352.87 L613.00 353.13 L613.20 353.23 L613.20 357.03 L613.00 356.93 L612.50 356.67 L612.00 356.41 L611.50 356.15 L611.00 355.89 L610.50 355.63 L610.00 355.37 L609.50 355.11 L609.00 354.85 L608.50 354.58 L608.00 354.32 L607.50 354.06 L607.00 353.80 L606.50 353.54 L606.00 353.28 L605.50 353.02 L605.00 352.76 L604.50 352.50 L604.00 352.24 L603.50 351.98 L603.00 351.72 L602.50 351.46 L602.00 351.20 L601.50 350.93 L601.00 350.67 L600.50 350.41 L600.00 350.15 L599.50 349.89 L599.00 349.63 L598.50 349.37 L598.00 349.11 L597.50 348.85 L597.00 348.59 L596.50 348.33 L596.00 348.07 L595.50 347.80 L595.00 347.54 L594.50 347.28 L594.00 347.02 L593.50 346.76 L593.00 346.50 L592.90 346.45Z M625.75 359.77 L625.88 359.84 L626.38 360.10 L626.88 360.36 L627.38 360.62 L627.88 360.88 L628.38 361.14 L628.88 361.40 L629.38 361.66 L629.88 361.92 L630.38 362.18 L630.88 362.44 L631.38 362.70 L631.88 362.96 L632.38 363.22 L632.88 363.48 L633.38 363.74 L633.88 364.01 L634.38 364.27 L634.88 364.53 L635.38 364.79 L635.88 365.05 L636.38 365.31 L636.88 365.57 L637.38 365.83 L637.88 366.09 L638.38 366.35 L638.88 366.61 L639.38 366.87 L639.88 367.13 L640.38 367.39 L640.88 367.65 L641.38 367.91 L641.88 368.17 L642.38 368.43 L642.88 368.69 L643.38 368.95 L643.88 369.21 L644.38 369.47 L644.88 369.73 L645.38 369.99 L645.88 370.25 L646.05 370.34 L646.05 374.14 L645.88 374.05 L645.38 373.79 L644.88 373.53 L644.38 373.27 L643.88 373.01 L643.38 372.75 L642.88 372.49 L642.38 372.23 L641.88 371.97 L641.38 371.71 L640.88 371.45 L640.38 371.19 L639.88 370.93 L639.38 370.67 L638.88 370.41 L638.38 370.15 L637.88 369.89 L637.38 369.63 L636.88 369.37 L636.38 369.11 L635.88 368.85 L635.38 368.59 L634.88 368.33 L634.38 368.07 L633.88 367.81 L633.38 367.54 L632.88 367.28 L632.38 367.02 L631.88 366.76 L631.38 366.50 L630.88 366.24 L630.38 365.98 L629.88 365.72 L629.38 365.46 L628.88 365.20 L628.38 364.94 L627.88 364.68 L627.38 364.42 L626.88 364.16 L626.38 363.90 L625.88 363.64 L625.75 363.57Z M658.60 376.87 L658.62 376.88 L659.12 377.14 L659.62 377.40 L660.12 377.66 L660.62 377.92 L661.12 378.18 L661.62 378.44 L662.12 378.70 L662.62 378.96 L663.12 379.22 L663.62 379.48 L664.12 379.74 L664.62 380.00 L665.12 380.26 L665.62 380.52 L666.12 380.78 L666.62 381.04 L667.12 381.30 L667.62 381.56 L668.12 381.82 L668.62 382.08 L669.12 382.34 L669.62 382.60 L670.12 382.86 L670.62 383.12 L671.12 383.38 L671.62 383.64 L672.12 383.90 L672.62 384.16 L673.12 384.42 L673.62 384.68 L674.12 384.94 L674.62 385.20 L675.12 385.46 L675.62 385.72 L676.12 385.98 L676.62 386.24 L677.12 386.50 L677.62 386.76 L678.12 387.02 L678.62 387.28 L678.90 387.42 L678.90 391.22 L678.62 391.08 L678.12 390.82 L677.62 390.56 L677.12 390.30 L676.62 390.04 L676.12 389.78 L675.62 389.52 L675.12 389.26 L674.62 389.00 L674.12 388.74 L673.62 388.48 L673.12 388.22 L672.62 387.96 L672.12 387.70 L671.62 387.44 L671.12 387.18 L670.62 386.92 L670.12 386.66 L669.62 386.40 L669.12 386.14 L668.62 385.88 L668.12 385.62 L667.62 385.36 L667.12 385.10 L666.62 384.84 L666.12 384.58 L665.62 384.32 L665.12 384.06 L664.62 383.80 L664.12 383.54 L663.62 383.28 L663.12 383.02 L662.62 382.76 L662.12 382.50 L661.62 382.24 L661.12 381.98 L660.62 381.72 L660.12 381.46 L659.62 381.20 L659.12 380.94 L658.62 380.68 L658.60 380.67Z M691.45 393.94 L691.50 393.96 L692.00 394.22 L692.50 394.48 L693.00 394.74 L693.50 395.00 L694.00 395.26 L694.50 395.52 L695.00 395.78 L695.50 396.04 L696.00 396.30 L696.50 396.56 L697.00 396.82 L697.50 397.08 L698.00 397.34 L698.50 397.60 L699.00 397.86 L699.50 398.12 L700.00 398.38 L700.50 398.64 L701.00 398.89 L701.50 399.15 L702.00 399.41 L702.50 399.67 L703.00 399.93 L703.50 400.19 L704.00 400.45 L704.50 400.71 L705.00 400.97 L705.50 401.23 L706.00 401.49 L706.50 401.75 L707.00 402.01 L707.50 402.27 L708.00 402.53 L708.50 402.79 L709.00 403.04 L709.50 403.30 L710.00 403.56 L710.50 403.82 L711.00 404.08 L711.50 404.34 L711.75 404.47 L711.75 408.27 L711.50 408.14 L711.00 407.88 L710.50 407.62 L710.00 407.36 L709.50 407.10 L709.00 406.84 L708.50 406.59 L708.00 406.33 L707.50 406.07 L707.00 405.81 L706.50 405.55 L706.00 405.29 L705.50 405.03 L705.00 404.77 L704.50 404.51 L704.00 404.25 L703.50 403.99 L703.00 403.73 L702.50 403.47 L702.00 403.21 L701.50 402.95 L701.00 402.69 L700.50 402.44 L700.00 402.18 L699.50 401.92 L699.00 401.66 L698.50 401.40 L698.00 401.14 L697.50 400.88 L697.00 400.62 L696.50 400.36 L696.00 400.10 L695.50 399.84 L695.00 399.58 L694.50 399.32 L694.00 399.06 L693.50 398.80 L693.00 398.54 L692.50 398.28 L692.00 398.02 L691.50 397.76 L691.45 397.74Z M724.30 410.98 L724.38 411.02 L724.88 411.28 L725.38 411.53 L725.88 411.79 L726.38 412.05 L726.88 412.31 L727.38 412.57 L727.88 412.83 L728.38 413.09 L728.88 413.35 L729.38 413.61 L729.88 413.87 L730.38 414.12 L730.88 414.38 L731.38 414.64 L731.88 414.90 L732.38 415.16 L732.88 415.42 L733.38 415.68 L733.88 415.94 L734.38 416.20 L734.88 416.46 L735.38 416.71 L735.88 416.97 L736.38 417.23 L736.88 417.49 L737.38 417.75 L737.88 418.01 L738.38 418.27 L738.88 418.53 L739.38 418.79 L739.88 419.05 L740.38 419.30 L740.88 419.56 L741.38 419.82 L741.88 420.08 L742.38 420.34 L742.88 420.60 L743.38 420.86 L743.88 421.12 L744.38 421.38 L744.60 421.49 L744.60 425.29 L744.38 425.18 L743.88 424.92 L743.38 424.66 L742.88 424.40 L742.38 424.14 L741.88 423.88 L741.38 423.62 L740.88 423.36 L740.38 423.10 L739.88 422.85 L739.38 422.59 L738.88 422.33 L738.38 422.07 L737.88 421.81 L737.38 421.55 L736.88 421.29 L736.38 421.03 L735.88 420.77 L735.38 420.51 L734.88 420.26 L734.38 420.00 L733.88 419.74 L733.38 419.48 L732.88 419.22 L732.38 418.96 L731.88 418.70 L731.38 418.44 L730.88 418.18 L730.38 417.92 L729.88 417.67 L729.38 417.41 L728.88 417.15 L728.38 416.89 L727.88 416.63 L727.38 416.37 L726.88 416.11 L726.38 415.85 L725.88 415.59 L725.38 415.33 L724.88 415.08 L724.38 414.82 L724.30 414.78Z M757.15 427.99 L757.25 428.04 L757.75 428.30 L758.25 428.56 L758.75 428.81 L759.25 429.07 L759.75 429.33 L760.25 429.59 L760.75 429.85 L761.25 430.11 L761.75 430.37 L762.25 430.63 L762.75 430.88 L763.25 431.14 L763.75 431.40 L764.25 431.66 L764.75 431.92 L765.25 432.18 L765.75 432.44 L766.25 432.69 L766.75 432.95 L767.25 433.21 L767.75 433.47 L768.25 433.73 L768.75 433.99 L769.25 434.25 L769.75 434.50 L770.25 434.76 L770.75 435.02 L771.25 435.28 L771.75 435.54 L772.25 435.80 L772.75 436.05 L773.25 436.31 L773.75 436.57 L774.25 436.83 L774.75 437.09 L775.25 437.35 L775.75 437.61 L776.25 437.86 L776.75 438.12 L777.25 438.38 L777.45 438.48 L777.45 442.28 L777.25 442.18 L776.75 441.92 L776.25 441.66 L775.75 441.41 L775.25 441.15 L774.75 440.89 L774.25 440.63 L773.75 440.37 L773.25 440.11 L772.75 439.85 L772.25 439.60 L771.75 439.34 L771.25 439.08 L770.75 438.82 L770.25 438.56 L769.75 438.30 L769.25 438.05 L768.75 437.79 L768.25 437.53 L767.75 437.27 L767.25 437.01 L766.75 436.75 L766.25 436.49 L765.75 436.24 L765.25 435.98 L764.75 435.72 L764.25 435.46 L763.75 435.20 L763.25 434.94 L762.75 434.68 L762.25 434.43 L761.75 434.17 L761.25 433.91 L760.75 433.65 L760.25 433.39 L759.75 433.13 L759.25 432.87 L758.75 432.61 L758.25 432.36 L757.75 432.10 L757.25 431.84 L757.15 431.79Z M790.00 444.97 L790.12 445.03 L790.62 445.29 L791.12 445.55 L791.62 445.81 L792.12 446.07 L792.62 446.32 L793.12 446.58 L793.62 446.84 L794.12 447.10 L794.62 447.36 L795.12 447.61 L795.62 447.87 L796.12 448.13 L796.62 448.39 L797.12 448.65 L797.62 448.91 L798.12 449.16 L798.62 449.42 L799.12 449.68 L799.62 449.94 L800.12 450.20 L800.62 450.45 L801.12 450.71 L801.62 450.97 L802.12 451.23 L802.62 451.49 L803.12 451.74 L803.62 452.00 L804.12 452.26 L804.62 452.52 L805.12 452.78 L805.62 453.03 L806.12 453.29 L806.62 453.55 L807.12 453.81 L807.62 454.07 L808.12 454.32 L808.62 454.58 L809.12 454.84 L809.62 455.10 L810.12 455.36 L810.30 455.45 L810.30 459.25 L810.12 459.16 L809.62 458.90 L809.12 458.64 L808.62 458.38 L808.12 458.12 L807.62 457.87 L807.12 457.61 L806.62 457.35 L806.12 457.09 L805.62 456.83 L805.12 456.58 L804.62 456.32 L804.12 456.06 L803.62 455.80 L803.12 455.54 L802.62 455.29 L802.12 455.03 L801.62 454.77 L801.12 454.51 L800.62 454.25 L800.12 454.00 L799.62 453.74 L799.12 453.48 L798.62 453.22 L798.12 452.96 L797.62 452.71 L797.12 452.45 L796.62 452.19 L796.12 451.93 L795.62 451.67 L795.12 451.41 L794.62 451.16 L794.12 450.90 L793.62 450.64 L793.12 450.38 L792.62 450.12 L792.12 449.87 L791.62 449.61 L791.12 449.35 L790.62 449.09 L790.12 448.83 L790.00 448.77Z M822.85 461.92 L822.88 461.93 L823.38 462.19 L823.88 462.45 L824.38 462.71 L824.88 462.96 L825.38 463.22 L825.88 463.48 L826.38 463.74 L826.88 463.99 L827.38 464.25 L827.88 464.51 L828.38 464.77 L828.88 465.03 L829.38 465.28 L829.88 465.54 L830.38 465.80 L830.88 466.06 L831.38 466.31 L831.88 466.57 L832.38 466.83 L832.88 467.09 L833.38 467.35 L833.88 467.60 L834.38 467.86 L834.88 468.12 L835.38 468.38 L835.88 468.63 L836.38 468.89 L836.88 469.15 L837.38 469.41 L837.88 469.66 L838.38 469.92 L838.88 470.18 L839.38 470.44 L839.88 470.69 L840.38 470.95 L840.88 471.21 L841.38 471.47 L841.88 471.72 L842.38 471.98 L842.88 472.24 L843.15 472.38 L843.15 476.18 L842.88 476.04 L842.38 475.78 L841.88 475.52 L841.38 475.27 L840.88 475.01 L840.38 474.75 L839.88 474.49 L839.38 474.24 L838.88 473.98 L838.38 473.72 L837.88 473.46 L837.38 473.21 L836.88 472.95 L836.38 472.69 L835.88 472.43 L835.38 472.18 L834.88 471.92 L834.38 471.66 L833.88 471.40 L833.38 471.15 L832.88 470.89 L832.38 470.63 L831.88 470.37 L831.38 470.11 L830.88 469.86 L830.38 469.60 L829.88 469.34 L829.38 469.08 L828.88 468.83 L828.38 468.57 L827.88 468.31 L827.38 468.05 L826.88 467.79 L826.38 467.54 L825.88 467.28 L825.38 467.02 L824.88 466.76 L824.38 466.51 L823.88 466.25 L823.38 465.99 L822.88 465.73 L822.85 465.72Z M855.70 478.84 L855.75 478.87 L856.25 479.13 L856.75 479.38 L857.25 479.64 L857.75 479.90 L858.25 480.16 L858.75 480.41 L859.25 480.67 L859.75 480.93 L860.25 481.18 L860.75 481.44 L861.25 481.70 L861.75 481.96 L862.25 482.21 L862.75 482.47 L863.25 482.73 L863.75 482.99 L864.25 483.24 L864.75 483.50 L865.25 483.76 L865.75 484.01 L866.25 484.27 L866.75 484.53 L867.25 484.79 L867.75 485.04 L868.25 485.30 L868.75 485.56 L869.25 485.82 L869.75 486.07 L870.25 486.33 L870.75 486.59 L871.25 486.84 L871.75 487.10 L872.25 487.36 L872.75 487.62 L873.25 487.87 L873.75 488.13 L874.25 488.39 L874.75 488.64 L875.25 488.90 L875.75 489.16 L876.00 489.29 L876.00 493.09 L875.75 492.96 L875.25 492.70 L874.75 492.44 L874.25 492.19 L873.75 491.93 L873.25 491.67 L872.75 491.42 L872.25 491.16 L871.75 490.90 L871.25 490.64 L870.75 490.39 L870.25 490.13 L869.75 489.87 L869.25 489.62 L868.75 489.36 L868.25 489.10 L867.75 488.84 L867.25 488.59 L866.75 488.33 L866.25 488.07 L865.75 487.81 L865.25 487.56 L864.75 487.30 L864.25 487.04 L863.75 486.79 L863.25 486.53 L862.75 486.27 L862.25 486.01 L861.75 485.76 L861.25 485.50 L860.75 485.24 L860.25 484.98 L859.75 484.73 L859.25 484.47 L858.75 484.21 L858.25 483.96 L857.75 483.70 L857.25 483.44 L856.75 483.18 L856.25 482.93 L855.75 482.67 L855.70 482.64Z M888.55 495.74 L888.62 495.78 L889.12 496.03 L889.62 496.29 L890.12 496.55 L890.62 496.80 L891.12 497.06 L891.62 497.32 L892.12 497.57 L892.62 497.83 L893.12 498.09 L893.62 498.34 L894.12 498.60 L894.62 498.86 L895.12 499.12 L895.62 499.37 L896.12 499.63 L896.62 499.89 L897.12 500.14 L897.62 500.40 L898.12 500.66 L898.62 500.91 L899.12 501.17 L899.62 501.43 L900.12 501.68 L900.62 501.94 L901.12 502.20 L901.62 502.45 L902.12 502.71 L902.62 502.97 L903.12 503.22 L903.62 503.48 L904.12 503.74 L904.62 503.99 L905.12 504.25 L905.62 504.51 L906.12 504.76 L906.62 505.02 L907.12 505.28 L907.62 505.53 L908.12 505.79 L908.62 506.05 L908.85 506.16 L908.85 509.96 L908.62 509.85 L908.12 509.59 L907.62 509.33 L907.12 509.08 L906.62 508.82 L906.12 508.56 L905.62 508.31 L905.12 508.05 L904.62 507.79 L904.12 507.54 L903.62 507.28 L903.12 507.02 L902.62 506.77 L902.12 506.51 L901.62 506.25 L901.12 506.00 L900.62 505.74 L900.12 505.48 L899.62 505.23 L899.12 504.97 L898.62 504.71 L898.12 504.46 L897.62 504.20 L897.12 503.94 L896.62 503.69 L896.12 503.43 L895.62 503.17 L895.12 502.92 L894.62 502.66 L894.12 502.40 L893.62 502.14 L893.12 501.89 L892.62 501.63 L892.12 501.37 L891.62 501.12 L891.12 500.86 L890.62 500.60 L890.12 500.35 L889.62 500.09 L889.12 499.83 L888.62 499.58 L888.55 499.54Z M921.40 512.60 L921.50 512.65 L922.00 512.91 L922.50 513.17 L923.00 513.42 L923.50 513.68 L924.00 513.94 L924.50 514.19 L925.00 514.45 L925.50 514.71 L926.00 514.96 L926.50 515.22 L927.00 515.47 L927.50 515.73 L928.00 515.99 L928.50 516.24 L929.00 516.50 L929.50 516.76 L930.00 517.01 L930.50 517.27 L931.00 517.53 L931.50 517.78 L932.00 518.04 L932.50 518.29 L933.00 518.55 L933.50 518.81 L934.00 519.06 L934.50 519.32 L935.00 519.58 L935.50 519.83 L936.00 520.09 L936.50 520.35 L937.00 520.60 L937.50 520.86 L938.00 521.11 L938.50 521.37 L939.00 521.63 L939.50 521.88 L940.00 522.14 L940.50 522.40 L941.00 522.65 L941.50 522.91 L941.70 523.01 L941.70 526.81 L941.50 526.71 L941.00 526.45 L940.50 526.20 L940.00 525.94 L939.50 525.68 L939.00 525.43 L938.50 525.17 L938.00 524.91 L937.50 524.66 L937.00 524.40 L936.50 524.15 L936.00 523.89 L935.50 523.63 L935.00 523.38 L934.50 523.12 L934.00 522.86 L933.50 522.61 L933.00 522.35 L932.50 522.09 L932.00 521.84 L931.50 521.58 L931.00 521.33 L930.50 521.07 L930.00 520.81 L929.50 520.56 L929.00 520.30 L928.50 520.04 L928.00 519.79 L927.50 519.53 L927.00 519.27 L926.50 519.02 L926.00 518.76 L925.50 518.51 L925.00 518.25 L924.50 517.99 L924.00 517.74 L923.50 517.48 L923.00 517.22 L922.50 516.97 L922.00 516.71 L921.50 516.45 L921.40 516.40Z M954.25 529.44 L954.38 529.50 L954.88 529.76 L955.38 530.01 L955.88 530.27 L956.38 530.53 L956.88 530.78 L957.38 531.04 L957.88 531.29 L958.38 531.55 L958.88 531.81 L959.38 532.06 L959.88 532.32 L960.38 532.57 L960.88 532.83 L961.38 533.09 L961.88 533.34 L962.38 533.60 L962.88 533.85 L963.38 534.11 L963.88 534.37 L964.38 534.62 L964.88 534.88 L965.38 535.13 L965.88 535.39 L966.38 535.65 L966.88 535.90 L967.38 536.16 L967.88 536.41 L968.38 536.67 L968.88 536.93 L969.38 537.18 L969.88 537.44 L970.38 537.69 L970.88 537.95 L971.38 538.20 L971.88 538.46 L972.38 538.72 L972.88 538.97 L973.38 539.23 L973.88 539.48 L974.38 539.74 L974.55 539.83 L974.55 543.63 L974.38 543.54 L973.88 543.28 L973.38 543.03 L972.88 542.77 L972.38 542.52 L971.88 542.26 L971.38 542.00 L970.88 541.75 L970.38 541.49 L969.88 541.24 L969.38 540.98 L968.88 540.73 L968.38 540.47 L967.88 540.21 L967.38 539.96 L966.88 539.70 L966.38 539.45 L965.88 539.19 L965.38 538.93 L964.88 538.68 L964.38 538.42 L963.88 538.17 L963.38 537.91 L962.88 537.65 L962.38 537.40 L961.88 537.14 L961.38 536.89 L960.88 536.63 L960.38 536.37 L959.88 536.12 L959.38 535.86 L958.88 535.61 L958.38 535.35 L957.88 535.09 L957.38 534.84 L956.88 534.58 L956.38 534.33 L955.88 534.07 L955.38 533.81 L954.88 533.56 L954.38 533.30 L954.25 533.24Z M987.10 546.25 L987.12 546.26 L987.62 546.51 L988.12 546.77 L988.62 547.03 L989.12 547.28 L989.62 547.54 L990.12 547.79 L990.62 548.05 L991.12 548.30 L991.62 548.56 L992.12 548.81 L992.62 549.07 L993.12 549.33 L993.62 549.58 L994.12 549.84 L994.62 550.09 L995.12 550.35 L995.62 550.60 L996.00 550.79 L996.00 554.59 L995.62 554.40 L995.12 554.15 L994.62 553.89 L994.12 553.64 L993.62 553.38 L993.12 553.13 L992.62 552.87 L992.12 552.61 L991.62 552.36 L991.12 552.10 L990.62 551.85 L990.12 551.59 L989.62 551.34 L989.12 551.08 L988.62 550.83 L988.12 550.57 L987.62 550.31 L987.12 550.06 L987.10 550.05Z" fill="#008c14"/>
<path id="c1" d="M133.00 253.19 L133.12 253.19 L133.62 253.19 L134.12 253.19 L134.62 253.19 L135.12 253.19 L135.62 253.19 L136.12 253.19 L136.62 253.19 L136.99 253.19 L136.99 258.99 L136.62 258.99 L136.12 258.99 L135.62 258.99 L135.12 258.99 L134.62 258.99 L134.12 258.99 L133.62 258.99 L133.12 258.99 L133.00 258.99Z M141.00 253.19 L141.12 253.19 L141.62 253.19 L142.12 253.19 L142.62 253.19 L143.12 253.19 L143.62 253.19 L144.12 253.19 L144.62 253.19 L145.12 253.19 L145.20 253.19 L145.20 258.99 L145.12 258.99 L144.62 258.99 L144.12 258.99 L143.62 258.99 L143.12 258.99 L142.62 258.99 L142.12 258.99 L141.62 258.99 L141.12 258.99 L141.00 258.99Z M149.21 253.19 L149.25 253.19 L149.75 253.19 L150.25 253.19 L150.75 253.19 L151.25 253.19 L151.75 253.19 L152.25 253.19 L152.75 253.19 L153.25 253.19 L153.41 253.19 L153.41 258.99 L153.25 258.99 L152.75 258.99 L152.25 258.99 L151.75 258.99 L151.25 258.99 L150.75 258.99 L150.25 258.99 L149.75 258.99 L149.25 258.99 L149.21 258.99Z M157.43 253.19 L157.50 253.19 L158.00 253.19 L158.50 253.19 L159.00 253.19 L159.50 253.19 L160.00 253.19 L160.50 253.19 L161.00 253.19 L161.50 253.19 L161.63 253.19 L161.63 258.99 L161.50 258.99 L161.00 258.99 L160.50 258.99 L160.00 258.99 L159.50 258.99 L159.00 258.99 L158.50 258.99 L158.00 258.99 L157.50 258.99 L157.43 258.99Z M165.64 253.18 L165.75 253.18 L166.25 253.18 L166.75 253.18 L167.25 253.18 L167.75 253.18 L168.25 253.18 L168.75 253.18 L169.25 253.18 L169.75 253.18 L169.84 253.18 L169.84 258.98 L169.75 258.98 L169.25 258.98 L168.75 258.98 L168.25 258.98 L167.75 258.98 L167.25 258.98 L166.75 258.98 L166.25 258.98 L165.75 258.98 L165.64 258.98Z M173.86 253.18 L173.88 253.18 L174.38 253.18 L174.88 253.18 L175.38 253.18 L175.88 253.18 L176.38 253.18 L176.88 253.18 L177.38 253.18 L177.88 253.18 L178.06 253.18 L178.06 258.98 L177.88 258.98 L177.38 258.98 L176.88 258.98 L176.38 258.98 L175.88 258.98 L175.38 258.98 L174.88 258.98 L174.38 258.98 L173.88 258.98 L173.86 258.98Z M182.07 253.18 L182.12 253.18 L182.62 253.18 L183.12 253.18 L183.62 253.18 L184.12 253.18 L184.62 253.18 L185.12 253.18 L185.62 253.18 L186.12 253.18 L186.27 253.18 L186.27 258.98 L186.12 258.98 L185.62 258.98 L185.12 258.98 L184.62 258.98 L184.12 258.98 L183.62 258.98 L183.12 258.98 L182.62 258.98 L182.12 258.98 L182.07 258.98Z M190.28 253.18 L190.38 253.18 L190.88 253.18 L191.38 253.18 L191.88 253.18 L192.38 253.18 L192.88 253.18 L193.38 253.18 L193.88 253.18 L194.38 253.18 L194.48 253.18 L194.48 258.98 L194.38 258.98 L193.88 258.98 L193.38 258.98 L192.88 258.98 L192.38 258.98 L191.88 258.98 L191.38 258.98 L190.88 258.98 L190.38 258.98 L190.28 258.98Z M198.50 253.18 L198.50 253.18 L199.00 253.18 L199.50 253.18 L200.00 253.18 L200.50 253.18 L201.00 253.18 L201.50 253.18 L202.00 253.18 L202.50 253.18 L202.70 253.18 L202.70 258.98 L202.50 258.98 L202.00 258.98 L201.50 258.98 L201.00 258.98 L200.50 258.98 L200.00 258.98 L199.50 258.98 L199.00 258.98 L198.50 258.98 L198.50 258.98Z M206.71 253.18 L206.75 253.18 L207.25 253.18 L207.75 253.18 L208.25 253.18 L208.75 253.18 L209.25 253.18 L209.75 253.18 L210.25 253.18 L210.75 253.18 L210.91 253.18 L210.91 258.98 L210.75 258.98 L210.25 258.98 L209.75 258.98 L209.25 258.98 L208.75 258.98 L208.25 258.98 L207.75 258.98 L207.25 258.98 L206.75 258.98 L206.71 258.98Z M214.93 253.18 L215.00 253.18 L215.50 253.18 L216.00 253.18 L216.50 253.18 L217.00 253.18 L217.50 253.18 L218.00 253.18 L218.50 253.18 L219.00 253.18 L219.13 253.18 L219.13 258.98 L219.00 258.98 L218.50 258.98 L218.00 258.98 L217.50 258.98 L217.00 258.98 L216.50 258.98 L216.00 258.98 L215.50 258.98 L215.00 258.98 L214.93 258.98Z M223.14 253.18 L223.25 253.18 L223.75 253.18 L224.25 253.18 L224.75 253.18 L225.25 253.18 L225.75 253.18 L226.25 253.17 L226.75 253.17 L227.25 253.17 L227.34 253.17 L227.34 258.97 L227.25 258.97 L226.75 258.97 L226.25 258.97 L225.75 258.98 L225.25 258.98 L224.75 258.98 L224.25 258.98 L223.75 258.98 L223.25 258.98 L223.14 258.98Z M231.35 253.17 L231.38 253.17 L231.88 253.17 L232.38 253.17 L232.88 253.17 L233.38 253.17 L233.88 253.17 L234.38 253.17 L234.88 253.17 L235.38 253.17 L235.55 253.17 L235.55 258.97 L235.38 258.97 L234.88 258.97 L234.38 258.97 L233.88 258.97 L233.38 258.97 L232.88 258.97 L232.38 258.97 L231.88 258.97 L231.38 258.97 L231.35 258.97Z M239.57 253.17 L239.62 253.17 L240.12 253.17 L240.62 253.17 L241.12 253.17 L241.62 253.17 L242.12 253.17 L242.62 253.17 L243.12 253.17 L243.62 253.17 L243.77 253.17 L243.77 258.97 L243.62 258.97 L243.12 258.97 L242.62 258.97 L242.12 258.97 L241.62 258.97 L241.12 258.97 L240.62 258.97 L240.12 258.97 L239.62 258.97 L239.57 258.97Z M247.78 253.17 L247.88 253.17 L248.38 253.17 L248.88 253.17 L249.38 253.17 L249.88 253.17 L250.38 253.17 L250.88 253.17 L251.38 253.17 L251.88 253.17 L251.98 253.17 L251.98 258.97 L251.88 258.97 L251.38 258.97 L250.88 258.97 L250.38 258.97 L249.88 258.97 L249.38 258.97 L248.88 258.97 L248.38 258.97 L247.88 258.97 L247.78 258.97Z M256.00 253.17 L256.00 253.17 L256.50 253.17 L257.00 253.17 L257.50 253.17 L258.00 253.17 L258.50 253.17 L259.00 253.17 L259.50 253.17 L260.00 253.17 L260.20 253.17 L260.20 258.97 L260.00 258.97 L259.50 258.97 L259.00 258.97 L258.50 258.97 L258.00 258.97 L257.50 258.97 L257.00 258.97 L256.50 258.97 L256.00 258.97 L256.00 258.97Z M264.21 253.16 L264.25 253.16 L264.75 253.16 L265.25 253.16 L265.75 253.16 L266.25 253.16 L266.75 253.16 L267.25 253.16 L267.75 253.16 L268.25 253.16 L268.41 253.16 L268.41 258.96 L268.25 258.96 L267.75 258.96 L267.25 258.96 L266.75 258.96 L266.25 258.96 L265.75 258.96 L265.25 258.96 L264.75 258.96 L264.25 258.96 L264.21 258.96Z M272.42 253.16 L272.50 253.16 L273.00 253.16 L273.50 253.16 L274.00 253.16 L274.50 253.16 L275.00 253.16 L275.50 253.16 L276.00 253.16 L276.50 253.16 L276.62 253.16 L276.62 258.96 L276.50 258.96 L276.00 258.96 L275.50 258.96 L275.00 258.96 L274.50 258.96 L274.00 258.96 L273.50 258.96 L273.00 258.96 L272.50 258.96 L272.42 258.96Z M280.64 253.16 L280.75 253.16 L281.25 253.16 L281.75 253.16 L282.25 253.16 L282.75 253.16 L283.25 253.16 L283.75 253.16 L284.25 253.16 L284.75 253.15 L284.84 253.15 L284.84 258.95 L284.75 258.95 L284.25 258.96 L283.75 258.96 L283.25 258.96 L282.75 258.96 L282.25 258.96 L281.75 258.96 L281.25 258.96 L280.75 258.96 L280.64 258.96Z M288.85 253.15 L288.88 253.15 L289.38 253.15 L289.88 253.15 L290.38 253.15 L290.88 253.15 L291.38 253.15 L291.88 253.15 L292.38 253.15 L292.88 253.15 L293.05 253.15 L293.05 258.95 L292.88 258.95 L292.38 258.95 L291.88 258.95 L291.38 258.95 L290.88 258.95 L290.38 258.95 L289.88 258.95 L289.38 258.95 L288.88 258.95 L288.85 258.95Z M297.07 253.15 L297.12 253.15 L297.62 253.15 L298.12 253.15 L298.62 253.15 L299.12 253.15 L299.62 253.15 L300.12 253.15 L300.62 253.15 L301.12 253.15 L301.27 253.15 L301.27 258.95 L301.12 258.95 L300.62 258.95 L300.12 258.95 L299.62 258.95 L299.12 258.95 L298.62 258.95 L298.12 258.95 L297.62 258.95 L297.12 258.95 L297.07 258.95Z M305.28 253.14 L305.38 253.14 L305.88 253.14 L306.38 253.14 L306.88 253.14 L307.38 253.14 L307.88 253.14 L308.38 253.14 L308.88 253.14 L309.38 253.14 L309.48 253.14 L309.48 258.94 L309.38 258.94 L308.88 258.94 L308.38 258.94 L307.88 258.94 L307.38 258.94 L306.88 258.94 L306.38 258.94 L305.88 258.94 L305.38 258.94 L305.28 258.94Z M313.49 253.14 L313.50 253.14 L314.00 253.14 L314.50 253.14 L315.00 253.14 L315.50 253.14 L316.00 253.14 L316.50 253.14 L317.00 253.14 L317.50 253.13 L317.69 253.13 L317.69 258.93 L317.50 258.93 L317.00 258.94 L316.50 258.94 L316.00 258.94 L315.50 258.94 L315.00 258.94 L314.50 258.94 L314.00 258.94 L313.50 258.94 L313.49 258.94Z M321.71 253.13 L321.75 253.13 L322.25 253.13 L322.75 253.13 L323.25 253.13 L323.75 253.13 L324.25 253.13 L324.75 253.13 L325.25 253.13 L325.75 253.13 L325.91 253.13 L325.91 258.93 L325.75 258.93 L325.25 258.93 L324.75 258.93 L324.25 258.93 L323.75 258.93 L323.25 258.93 L322.75 258.93 L322.25 258.93 L321.75 258.93 L321.71 258.93Z M329.92 253.12 L330.00 253.12 L330.50 253.12 L331.00 253.12 L331.50 253.12 L332.00 253.12 L332.50 253.12 L333.00 253.12 L333.50 253.12 L334.00 253.12 L334.12 253.12 L334.12 258.92 L334.00 258.92 L333.50 258.92 L333.00 258.92 L332.50 258.92 L332.00 258.92 L331.50 258.92 L331.00 258.92 L330.50 258.92 L330.00 258.92 L329.92 258.92Z M338.14 253.12 L338.25 253.12 L338.75 253.12 L339.25 253.12 L339.75 253.12 L340.25 253.12 L340.75 253.11 L341.25 253.11 L341.75 253.11 L342.25 253.11 L342.34 253.11 L342.34 258.91 L342.25 258.91 L341.75 258.91 L341.25 258.91 L340.75 258.91 L340.25 258.92 L339.75 258.92 L339.25 258.92 L338.75 258.92 L338.25 258.92 L338.14 258.92Z M346.35 253.11 L346.38 253.11 L346.88 253.11 L347.38 253.11 L347.88 253.11 L348.38 253.11 L348.88 253.11 L349.38 253.11 L349.88 253.10 L350.38 253.10 L350.55 253.10 L350.55 258.90 L350.38 258.90 L349.88 258.90 L349.38 258.91 L348.88 258.91 L348.38 258.91 L347.88 258.91 L347.38 258.91 L346.88 258.91 L346.38 258.91 L346.35 258.91Z M354.56 253.10 L354.62 253.10 L355.12 253.10 L355.62 253.10 L356.12 253.10 L356.62 253.10 L357.12 253.10 L357.62 253.10 L358.12 253.09 L358.62 253.09 L358.76 253.09 L358.76 258.89 L358.62 258.89 L358.12 258.89 L357.62 258.90 L357.12 258.90 L356.62 258.90 L356.12 258.90 L355.62 258.90 L355.12 258.90 L354.62 258.90 L354.56 258.90Z M362.78 253.09 L362.88 253.09 L363.38 253.09 L363.88 253.09 L364.38 253.09 L364.88 253.09 L365.38 253.09 L365.88 253.08 L366.38 253.08 L366.88 253.08 L366.98 253.08 L366.98 258.88 L366.88 258.88 L366.38 258.88 L365.88 258.88 L365.38 258.89 L364.88 258.89 L364.38 258.89 L363.88 258.89 L363.38 258.89 L362.88 258.89 L362.78 258.89Z M370.99 253.08 L371.00 253.08 L371.50 253.08 L372.00 253.08 L372.50 253.08 L373.00 253.07 L373.50 253.07 L374.00 253.07 L374.50 253.07 L375.00 253.07 L375.19 253.07 L375.19 258.87 L375.00 258.87 L374.50 258.87 L374.00 258.87 L373.50 258.87 L373.00 258.87 L372.50 258.88 L372.00 258.88 L371.50 258.88 L371.00 258.88 L370.99 258.88Z M379.21 253.06 L379.25 253.06 L379.75 253.06 L380.25 253.06 L380.75 253.06 L381.25 253.06 L381.75 253.06 L382.25 253.06 L382.75 253.06 L383.25 253.06 L383.41 253.06 L383.41 258.86 L383.25 258.86 L382.75 258.86 L382.25 258.86 L381.75 258.86 L381.25 258.86 L380.75 258.86 L380.25 258.86 L379.75 258.86 L379.25 258.86 L379.21 258.86Z M387.42 253.05 L387.50 253.05 L388.00 253.05 L388.50 253.05 L389.00 253.05 L389.50 253.05 L390.00 253.05 L390.50 253.04 L391.00 253.04 L391.50 253.04 L391.62 253.04 L391.62 258.84 L391.50 258.84 L391.00 258.84 L390.50 258.84 L390.00 258.85 L389.50 258.85 L389.00 258.85 L388.50 258.85 L388.00 258.85 L387.50 258.85 L387.42 258.85Z M395.63 253.03 L395.75 253.03 L396.25 253.03 L396.75 253.03 L397.25 253.03 L397.75 253.03 L398.25 253.03 L398.75 253.03 L399.25 253.03 L399.75 253.03 L399.83 253.03 L399.83 258.83 L399.75 258.83 L399.25 258.83 L398.75 258.83 L398.25 258.83 L397.75 258.83 L397.25 258.83 L396.75 258.83 L396.25 258.83 L395.75 258.83 L395.63 258.83Z M403.85 253.02 L403.88 253.02 L404.38 253.02 L404.88 253.01 L405.38 253.01 L405.88 253.01 L406.38 253.01 L406.88 253.01 L407.38 253.01 L407.88 253.01 L408.05 253.01 L408.05 258.81 L407.88 258.81 L407.38 258.81 L406.88 258.81 L406.38 258.81 L405.88 258.81 L405.38 258.81 L404.88 258.81 L404.38 258.82 L403.88 258.82 L403.85 258.82Z M412.06 253.00 L412.12 253.00 L412.62 253.00 L413.12 252.99 L413.62 252.99 L414.12 252.99 L414.62 252.99 L415.12 252.99 L415.62 252.99 L416.12 252.99 L416.26 252.99 L416.26 258.79 L416.12 258.79 L415.62 258.79 L415.12 258.79 L414.62 258.79 L414.12 258.79 L413.62 258.79 L413.12 258.79 L412.62 258.80 L412.12 258.80 L412.06 258.80Z M420.28 252.98 L420.38 252.98 L420.88 252.97 L421.38 252.97 L421.88 252.97 L422.38 252.97 L422.88 252.97 L423.38 252.97 L423.88 252.97 L424.38 252.96 L424.48 252.96 L424.48 258.76 L424.38 258.76 L423.88 258.77 L423.38 258.77 L422.88 258.77 L422.38 258.77 L421.88 258.77 L421.38 258.77 L420.88 258.77 L420.38 258.78 L420.28 258.78Z M428.49 252.95 L428.50 252.95 L429.00 252.95 L429.50 252.95 L430.00 252.95 L430.50 252.94 L431.00 252.94 L431.50 252.94 L432.00 252.94 L432.50 252.94 L432.69 252.94 L432.69 258.74 L432.50 258.74 L432.00 258.74 L431.50 258.74 L431.00 258.74 L430.50 258.74 L430.00 258.75 L429.50 258.75 L429.00 258.75 L428.50 258.75 L428.49 258.75Z M436.70 252.92 L436.75 252.92 L437.25 252.92 L437.75 252.92 L438.25 252.92 L438.75 252.92 L439.25 252.92 L439.75 252.91 L440.25 252.91 L440.75 252.91 L440.90 252.91 L440.90 258.71 L440.75 258.71 L440.25 258.71 L439.75 258.71 L439.25 258.72 L438.75 258.72 L438.25 258.72 L437.75 258.72 L437.25 258.72 L436.75 258.72 L436.70 258.72Z M444.92 252.89 L445.00 252.89 L445.50 252.89 L446.00 252.89 L446.50 252.89 L447.00 252.89 L447.50 252.88 L448.00 252.88 L448.50 252.88 L449.00 252.88 L449.12 252.88 L449.12 258.68 L449.00 258.68 L448.50 258.68 L448.00 258.68 L447.50 258.68 L447.00 258.69 L446.50 258.69 L446.00 258.69 L445.50 258.69 L445.00 258.69 L444.92 258.69Z M453.13 252.86 L453.25 252.86 L453.75 252.86 L454.25 252.86 L454.75 252.85 L455.25 252.85 L455.75 252.85 L456.25 252.85 L456.75 252.85 L457.25 252.84 L457.33 252.84 L457.33 258.64 L457.25 258.64 L456.75 258.65 L456.25 258.65 L455.75 258.65 L455.25 258.65 L454.75 258.65 L454.25 258.66 L453.75 258.66 L453.25 258.66 L453.13 258.66Z M461.35 252.82 L461.38 252.82 L461.88 252.82 L462.38 252.82 L462.88 252.82 L463.38 252.82 L463.88 252.81 L464.38 252.81 L464.88 252.81 L465.38 252.81 L465.55 252.80 L465.55 258.60 L465.38 258.61 L464.88 258.61 L464.38 258.61 L463.88 258.61 L463.38 258.62 L462.88 258.62 L462.38 258.62 L461.88 258.62 L461.38 258.62 L461.35 258.62Z M469.56 252.78 L469.62 252.78 L470.12 252.78 L470.62 252.78 L471.12 252.78 L471.62 252.77 L472.12 252.77 L472.62 252.77 L473.12 252.76 L473.62 252.76 L473.76 252.76 L473.76 258.56 L473.62 258.56 L473.12 258.56 L472.62 258.57 L472.12 258.57 L471.62 258.57 L471.12 258.58 L470.62 258.58 L470.12 258.58 L469.62 258.58 L469.56 258.58Z M477.77 252.74 L477.88 252.74 L478.38 252.73 L478.88 252.73 L479.38 252.73 L479.88 252.73 L480.38 252.72 L480.88 252.72 L481.38 252.72 L481.88 252.71 L481.97 252.71 L481.97 258.51 L481.88 258.51 L481.38 258.52 L480.88 258.52 L480.38 258.52 L479.88 258.53 L479.38 258.53 L478.88 258.53 L478.38 258.53 L477.88 258.54 L477.77 258.54Z M485.99 252.69 L486.00 252.69 L486.50 252.68 L487.00 252.68 L487.50 252.68 L488.00 252.67 L488.50 252.67 L489.00 252.67 L489.50 252.66 L490.00 252.66 L490.19 252.66 L490.19 258.46 L490.00 258.46 L489.50 258.46 L489.00 258.47 L488.50 258.47 L488.00 258.47 L487.50 258.48 L487.00 258.48 L486.50 258.48 L486.00 258.49 L485.99 258.49Z M494.20 252.63 L494.25 252.63 L494.75 252.63 L495.25 252.62 L495.75 252.62 L496.25 252.62 L496.75 252.61 L497.25 252.61 L497.75 252.61 L498.25 252.60 L498.40 252.60 L498.40 258.40 L498.25 258.40 L497.75 258.41 L497.25 258.41 L496.75 258.41 L496.25 258.42 L495.75 258.42 L495.25 258.42 L494.75 258.43 L494.25 258.43 L494.20 258.43Z M502.42 252.57 L502.50 252.57 L503.00 252.57 L503.50 252.56 L504.00 252.56 L504.50 252.55 L505.00 252.55 L505.50 252.54 L506.00 252.54 L506.50 252.54 L506.62 252.54 L506.62 258.34 L506.50 258.34 L506.00 258.34 L505.50 258.34 L505.00 258.35 L504.50 258.35 L504.00 258.36 L503.50 258.36 L503.00 258.37 L502.50 258.37 L502.42 258.37Z M510.63 252.50 L510.75 252.50 L511.25 252.50 L511.75 252.49 L512.25 252.49 L512.75 252.48 L513.25 252.48 L513.75 252.47 L514.25 252.47 L514.75 252.46 L514.83 252.46 L514.83 258.26 L514.75 258.26 L514.25 258.27 L513.75 258.27 L513.25 258.28 L512.75 258.28 L512.25 258.29 L511.75 258.29 L511.25 258.30 L510.75 258.30 L510.63 258.30Z M518.84 252.42 L518.88 252.42 L519.38 252.42 L519.88 252.41 L520.38 252.41 L520.88 252.40 L521.38 252.40 L521.88 252.39 L522.38 252.39 L522.88 252.38 L523.04 252.38 L523.04 258.18 L522.88 258.18 L522.38 258.19 L521.88 258.19 L521.38 258.20 L520.88 258.20 L520.38 258.21 L519.88 258.21 L519.38 258.22 L518.88 258.22 L518.84 258.22Z M527.06 252.34 L527.12 252.34 L527.62 252.33 L528.12 252.33 L528.62 252.32 L529.12 252.32 L529.62 252.31 L530.12 252.30 L530.62 252.30 L531.12 252.29 L531.26 252.29 L531.26 258.09 L531.12 258.09 L530.62 258.10 L530.12 258.10 L529.62 258.11 L529.12 258.12 L528.62 258.12 L528.12 258.13 L527.62 258.13 L527.12 258.14 L527.06 258.14Z M535.27 252.24 L535.38 252.24 L535.88 252.24 L536.38 252.23 L536.88 252.23 L537.38 252.22 L537.88 252.21 L538.38 252.21 L538.88 252.20 L539.38 252.19 L539.47 252.19 L539.47 257.99 L539.38 257.99 L538.88 258.00 L538.38 258.01 L537.88 258.01 L537.38 258.02 L536.88 258.03 L536.38 258.03 L535.88 258.04 L535.38 258.04 L535.27 258.04Z M543.49 252.14 L543.50 252.14 L544.00 252.13 L544.50 252.13 L545.00 252.12 L545.50 252.11 L546.00 252.11 L546.50 252.10 L547.00 252.09 L547.50 252.08 L547.69 252.08 L547.69 257.88 L547.50 257.88 L547.00 257.89 L546.50 257.90 L546.00 257.91 L545.50 257.91 L545.00 257.92 L544.50 257.93 L544.00 257.93 L543.50 257.94 L543.49 257.94Z M551.70 252.02 L551.75 252.02 L552.25 252.02 L552.75 252.01 L553.25 252.00 L553.75 251.99 L554.25 251.98 L554.75 251.98 L555.25 251.97 L555.75 251.96 L555.90 251.96 L555.90 257.76 L555.75 257.76 L555.25 257.77 L554.75 257.78 L554.25 257.78 L553.75 257.79 L553.25 257.80 L552.75 257.81 L552.25 257.82 L551.75 257.82 L551.70 257.82Z M559.91 251.89 L560.00 251.89 L560.50 251.88 L561.00 251.88 L561.50 251.87 L562.00 251.86 L562.50 251.85 L563.00 251.84 L563.50 251.83 L564.00 251.82 L564.11 251.82 L564.11 257.62 L564.00 257.62 L563.50 257.63 L563.00 257.64 L562.50 257.65 L562.00 257.66 L561.50 257.67 L561.00 257.68 L560.50 257.68 L560.00 257.69 L559.91 257.69Z M568.13 251.75 L568.25 251.75 L568.75 251.74 L569.25 251.73 L569.75 251.72 L570.25 251.71 L570.75 251.70 L571.25 251.69 L571.75 251.68 L572.25 251.67 L572.33 251.67 L572.33 257.47 L572.25 257.47 L571.75 257.48 L571.25 257.49 L570.75 257.50 L570.25 257.51 L569.75 257.52 L569.25 257.53 L568.75 257.54 L568.25 257.55 L568.13 257.55Z M576.34 251.59 L576.38 251.59 L576.88 251.58 L577.38 251.57 L577.88 251.56 L578.38 251.55 L578.88 251.54 L579.38 251.53 L579.88 251.52 L580.38 251.51 L580.54 251.50 L580.54 257.30 L580.38 257.31 L579.88 257.32 L579.38 257.33 L578.88 257.34 L578.38 257.35 L577.88 257.36 L577.38 257.37 L576.88 257.38 L576.38 257.39 L576.34 257.39Z M584.56 251.42 L584.62 251.41 L585.12 251.40 L585.62 251.39 L586.12 251.38 L586.62 251.37 L587.12 251.36 L587.62 251.35 L588.12 251.33 L588.62 251.32 L588.76 251.32 L588.76 257.12 L588.62 257.12 L588.12 257.13 L587.62 257.15 L587.12 257.16 L586.62 257.17 L586.12 257.18 L585.62 257.19 L585.12 257.20 L584.62 257.21 L584.56 257.22Z M592.77 251.22 L592.88 251.22 L593.38 251.21 L593.88 251.19 L594.38 251.18 L594.88 251.17 L595.38 251.15 L595.88 251.14 L596.38 251.13 L596.88 251.11 L596.97 251.11 L596.97 256.91 L596.88 256.91 L596.38 256.93 L595.88 256.94 L595.38 256.95 L594.88 256.97 L594.38 256.98 L593.88 256.99 L593.38 257.01 L592.88 257.02 L592.77 257.02Z M600.98 251.00 L601.00 251.00 L601.50 250.99 L602.00 250.98 L602.50 250.96 L603.00 250.95 L603.50 250.93 L604.00 250.92 L604.50 250.90 L605.00 250.89 L605.18 250.88 L605.18 256.68 L605.00 256.69 L604.50 256.70 L604.00 256.72 L603.50 256.73 L603.00 256.75 L602.50 256.76 L602.00 256.78 L601.50 256.79 L601.00 256.80 L600.98 256.80Z M609.20 250.76 L609.25 250.76 L609.75 250.75 L610.25 250.73 L610.75 250.72 L611.25 250.70 L611.75 250.68 L612.25 250.67 L612.75 250.65 L613.25 250.64 L613.40 250.63 L613.40 256.43 L613.25 256.44 L612.75 256.45 L612.25 256.47 L611.75 256.48 L611.25 256.50 L610.75 256.52 L610.25 256.53 L609.75 256.55 L609.25 256.56 L609.20 256.56Z M617.41 250.50 L617.50 250.49 L618.00 250.48 L618.50 250.46 L619.00 250.44 L619.50 250.43 L620.00 250.41 L620.50 250.39 L621.00 250.37 L621.50 250.35 L621.61 250.35 L621.61 256.15 L621.50 256.15 L621.00 256.17 L620.50 256.19 L620.00 256.21 L619.50 256.23 L619.00 256.24 L618.50 256.26 L618.00 256.28 L617.50 256.29 L617.41 256.30Z M625.63 250.20 L625.75 250.20 L626.25 250.18 L626.75 250.16 L627.25 250.14 L627.75 250.12 L628.25 250.10 L628.75 250.08 L629.25 250.06 L629.75 250.04 L629.83 250.04 L629.83 255.84 L629.75 255.84 L629.25 255.86 L628.75 255.88 L628.25 255.90 L627.75 255.92 L627.25 255.94 L626.75 255.96 L626.25 255.98 L625.75 256.00 L625.63 256.00Z M633.84 249.88 L633.88 249.87 L634.38 249.85 L634.88 249.83 L635.38 249.81 L635.88 249.79 L636.38 249.77 L636.88 249.75 L637.38 249.72 L637.88 249.70 L638.04 249.70 L638.04 255.50 L637.88 255.50 L637.38 255.52 L636.88 255.55 L636.38 255.57 L635.88 255.59 L635.38 255.61 L634.88 255.63 L634.38 255.65 L633.88 255.67 L633.84 255.68Z M642.05 249.51 L642.12 249.51 L642.62 249.49 L643.12 249.46 L643.62 249.44 L644.12 249.42 L644.62 249.39 L645.12 249.37 L645.62 249.35 L646.12 249.32 L646.25 249.31 L646.25 255.11 L646.12 255.12 L645.62 255.15 L645.12 255.17 L644.62 255.19 L644.12 255.22 L643.62 255.24 L643.12 255.26 L642.62 255.29 L642.12 255.31 L642.05 255.31Z M650.27 249.11 L650.38 249.11 L650.88 249.08 L651.38 249.06 L651.88 249.03 L652.38 249.01 L652.88 248.98 L653.38 248.95 L653.88 248.93 L654.38 248.90 L654.47 248.89 L654.47 254.69 L654.38 254.70 L653.88 254.73 L653.38 254.75 L652.88 254.78 L652.38 254.81 L651.88 254.83 L651.38 254.86 L650.88 254.88 L650.38 254.91 L650.27 254.91Z M658.48 248.67 L658.50 248.67 L659.00 248.64 L659.50 248.61 L660.00 248.59 L660.50 248.56 L661.00 248.53 L661.50 248.50 L662.00 248.47 L662.50 248.44 L662.68 248.43 L662.68 254.23 L662.50 254.24 L662.00 254.27 L661.50 254.30 L661.00 254.33 L660.50 254.36 L660.00 254.39 L659.50 254.41 L659.00 254.44 L658.50 254.47 L658.48 254.47Z M666.70 248.18 L666.75 248.18 L667.25 248.15 L667.75 248.12 L668.25 248.09 L668.75 248.05 L669.25 248.02 L669.75 247.99 L670.25 247.96 L670.75 247.92 L670.90 247.91 L670.90 253.71 L670.75 253.72 L670.25 253.76 L669.75 253.79 L669.25 253.82 L668.75 253.85 L668.25 253.89 L667.75 253.92 L667.25 253.95 L666.75 253.98 L666.70 253.98Z M674.91 247.64 L675.00 247.64 L675.50 247.60 L676.00 247.57 L676.50 247.53 L677.00 247.50 L677.50 247.46 L678.00 247.43 L678.50 247.39 L679.00 247.35 L679.11 247.35 L679.11 253.15 L679.00 253.15 L678.50 253.19 L678.00 253.23 L677.50 253.26 L677.00 253.30 L676.50 253.33 L676.00 253.37 L675.50 253.40 L675.00 253.44 L674.91 253.44Z M683.12 247.05 L683.12 247.05 L683.62 247.01 L684.12 246.97 L684.62 246.93 L685.12 246.89 L685.62 246.85 L686.12 246.81 L686.62 246.77 L687.12 246.73 L687.32 246.72 L687.32 252.52 L687.12 252.53 L686.62 252.57 L686.12 252.61 L685.62 252.65 L685.12 252.69 L684.62 252.73 L684.12 252.77 L683.62 252.81 L683.12 252.85 L683.12 252.85Z M691.34 246.39 L691.38 246.39 L691.88 246.34 L692.38 246.30 L692.88 246.26 L693.38 246.22 L693.88 246.17 L694.38 246.13 L694.88 246.08 L695.38 246.04 L695.54 246.03 L695.54 251.83 L695.38 251.84 L694.88 251.88 L694.38 251.93 L693.88 251.97 L693.38 252.02 L692.88 252.06 L692.38 252.10 L691.88 252.14 L691.38 252.19 L691.34 252.19Z M699.55 245.66 L699.62 245.66 L700.12 245.61 L700.62 245.56 L701.12 245.52 L701.62 245.47 L702.12 245.42 L702.62 245.37 L703.12 245.32 L703.62 245.28 L703.75 245.26 L703.75 251.06 L703.62 251.08 L703.12 251.12 L702.62 251.17 L702.12 251.22 L701.62 251.27 L701.12 251.32 L700.62 251.36 L700.12 251.41 L699.62 251.46 L699.55 251.46Z M707.77 244.86 L707.88 244.85 L708.38 244.80 L708.88 244.75 L709.38 244.70 L709.88 244.65 L710.38 244.59 L710.88 244.54 L711.38 244.49 L711.88 244.43 L711.97 244.42 L711.97 250.22 L711.88 250.23 L711.38 250.29 L710.88 250.34 L710.38 250.39 L709.88 250.45 L709.38 250.50 L708.88 250.55 L708.38 250.60 L707.88 250.65 L707.77 250.66Z M715.98 243.98 L716.00 243.98 L716.50 243.93 L717.00 243.87 L717.50 243.81 L718.00 243.75 L718.50 243.70 L719.00 243.64 L719.50 243.58 L720.00 243.52 L720.18 243.50 L720.18 249.30 L720.00 249.32 L719.50 249.38 L719.00 249.44 L718.50 249.50 L718.00 249.55 L717.50 249.61 L717.00 249.67 L716.50 249.73 L716.00 249.78 L715.98 249.78Z M724.19 243.02 L724.25 243.01 L724.75 242.95 L725.25 242.88 L725.75 242.82 L726.25 242.76 L726.75 242.70 L727.25 242.63 L727.75 242.57 L728.25 242.50 L728.39 242.48 L728.39 248.28 L728.25 248.30 L727.75 248.37 L727.25 248.43 L726.75 248.50 L726.25 248.56 L725.75 248.62 L725.25 248.68 L724.75 248.75 L724.25 248.81 L724.19 248.82Z M732.41 241.95 L732.50 241.94 L733.00 241.87 L733.50 241.80 L734.00 241.74 L734.50 241.67 L735.00 241.60 L735.50 241.53 L736.00 241.46 L736.50 241.39 L736.61 241.37 L736.61 247.17 L736.50 247.19 L736.00 247.26 L735.50 247.33 L735.00 247.40 L734.50 247.47 L734.00 247.54 L733.50 247.60 L733.00 247.67 L732.50 247.74 L732.41 247.75Z M740.62 240.79 L740.62 240.79 L741.12 240.71 L741.62 240.64 L742.12 240.56 L742.62 240.48 L743.12 240.41 L743.62 240.33 L744.12 240.25 L744.62 240.18 L744.82 240.15 L744.82 245.95 L744.62 245.98 L744.12 246.05 L743.62 246.13 L743.12 246.21 L742.62 246.28 L742.12 246.36 L741.62 246.44 L741.12 246.51 L740.62 246.59 L740.62 246.59Z M748.84 239.51 L748.88 239.50 L749.38 239.42 L749.88 239.34 L750.38 239.25 L750.88 239.17 L751.38 239.09 L751.88 239.00 L752.38 238.92 L752.88 238.83 L753.04 238.81 L753.04 244.61 L752.88 244.63 L752.38 244.72 L751.88 244.80 L751.38 244.89 L750.88 244.97 L750.38 245.05 L749.88 245.14 L749.38 245.22 L748.88 245.30 L748.84 245.31Z M757.05 238.11 L757.12 238.09 L757.62 238.00 L758.12 237.92 L758.62 237.82 L759.12 237.73 L759.62 237.64 L760.12 237.55 L760.62 237.46 L761.12 237.37 L761.25 237.34 L761.25 243.14 L761.12 243.17 L760.62 243.26 L760.12 243.35 L759.62 243.44 L759.12 243.53 L758.62 243.62 L758.12 243.72 L757.62 243.80 L757.12 243.89 L757.05 243.91Z M765.26 236.58 L765.38 236.56 L765.88 236.46 L766.38 236.36 L766.88 236.26 L767.38 236.16 L767.88 236.06 L768.38 235.96 L768.88 235.86 L769.38 235.76 L769.46 235.74 L769.46 241.54 L769.38 241.56 L768.88 241.66 L768.38 241.76 L767.88 241.86 L767.38 241.96 L766.88 242.06 L766.38 242.16 L765.88 242.26 L765.38 242.36 L765.26 242.38Z M773.48 234.91 L773.50 234.90 L774.00 234.80 L774.50 234.69 L775.00 234.58 L775.50 234.47 L776.00 234.37 L776.50 234.26 L777.00 234.15 L777.50 234.04 L777.68 234.00 L777.68 239.80 L777.50 239.84 L777.00 239.95 L776.50 240.06 L776.00 240.17 L775.50 240.27 L775.00 240.38 L774.50 240.49 L774.00 240.60 L773.50 240.70 L773.48 240.71Z M781.69 233.09 L781.75 233.08 L782.25 232.96 L782.75 232.84 L783.25 232.73 L783.75 232.61 L784.25 232.49 L784.75 232.37 L785.25 232.25 L785.75 232.13 L785.89 232.10 L785.89 237.90 L785.75 237.93 L785.25 238.05 L784.75 238.17 L784.25 238.29 L783.75 238.41 L783.25 238.53 L782.75 238.64 L782.25 238.76 L781.75 238.88 L781.69 238.89Z M789.91 231.11 L790.00 231.09 L790.50 230.96 L791.00 230.83 L791.50 230.71 L792.00 230.58 L792.50 230.45 L793.00 230.32 L793.50 230.19 L794.00 230.06 L794.11 230.03 L794.11 235.83 L794.00 235.86 L793.50 235.99 L793.00 236.12 L792.50 236.25 L792.00 236.38 L791.50 236.51 L791.00 236.63 L790.50 236.76 L790.00 236.89 L789.91 236.91Z M798.12 228.96 L798.12 228.96 L798.62 228.82 L799.12 228.69 L799.62 228.55 L800.12 228.41 L800.62 228.27 L801.12 228.13 L801.62 227.99 L802.12 227.85 L802.32 227.79 L802.32 233.59 L802.12 233.65 L801.62 233.79 L801.12 233.93 L800.62 234.07 L800.12 234.21 L799.62 234.35 L799.12 234.49 L798.62 234.62 L798.12 234.76 L798.12 234.76Z M806.33 226.63 L806.38 226.62 L806.88 226.47 L807.38 226.32 L807.88 226.18 L808.38 226.03 L808.88 225.87 L809.38 225.72 L809.88 225.57 L810.38 225.42 L810.53 225.37 L810.53 231.17 L810.38 231.22 L809.88 231.37 L809.38 231.52 L808.88 231.67 L808.38 231.83 L807.88 231.98 L807.38 232.12 L806.88 232.27 L806.38 232.42 L806.33 232.43Z M814.55 224.12 L814.62 224.09 L815.12 223.93 L815.62 223.77 L816.12 223.61 L816.62 223.45 L817.12 223.29 L817.62 223.12 L818.12 222.96 L818.62 222.79 L818.75 222.75 L818.75 228.55 L818.62 228.59 L818.12 228.76 L817.62 228.92 L817.12 229.09 L816.62 229.25 L816.12 229.41 L815.62 229.57 L815.12 229.73 L814.62 229.89 L814.55 229.92Z M822.76 221.40 L822.88 221.36 L823.38 221.19 L823.88 221.02 L824.38 220.84 L824.88 220.67 L825.38 220.49 L825.88 220.32 L826.38 220.14 L826.88 219.96 L826.96 219.93 L826.96 225.73 L826.88 225.76 L826.38 225.94 L825.88 226.12 L825.38 226.29 L824.88 226.47 L824.38 226.64 L823.88 226.82 L823.38 226.99 L822.88 227.16 L822.76 227.20Z M830.98 218.48 L831.00 218.47 L831.50 218.28 L832.00 218.10 L832.50 217.91 L833.00 217.72 L833.50 217.53 L834.00 217.34 L834.50 217.15 L835.00 216.96 L835.18 216.90 L835.18 222.70 L835.00 222.76 L834.50 222.95 L834.00 223.14 L833.50 223.33 L833.00 223.52 L832.50 223.71 L832.00 223.90 L831.50 224.08 L831.00 224.27 L830.98 224.28Z M839.19 215.33 L839.25 215.31 L839.75 215.11 L840.25 214.91 L840.75 214.71 L841.25 214.51 L841.75 214.31 L842.25 214.11 L842.75 213.90 L843.25 213.70 L843.39 213.64 L843.39 219.44 L843.25 219.50 L842.75 219.70 L842.25 219.91 L841.75 220.11 L841.25 220.31 L840.75 220.51 L840.25 220.71 L839.75 220.91 L839.25 221.11 L839.19 221.13Z M847.40 211.97 L847.50 211.93 L848.00 211.72 L848.50 211.50 L849.00 211.29 L849.50 211.08 L850.00 210.86 L850.50 210.64 L851.00 210.43 L851.50 210.21 L851.60 210.16 L851.60 215.96 L851.50 216.01 L851.00 216.23 L850.50 216.44 L850.00 216.66 L849.50 216.88 L849.00 217.09 L848.50 217.30 L848.00 217.52 L847.50 217.73 L847.40 217.77Z M855.62 208.38 L855.62 208.37 L856.12 208.15 L856.62 207.92 L857.12 207.69 L857.62 207.46 L858.12 207.23 L858.62 207.00 L859.12 206.77 L859.62 206.54 L859.82 206.45 L859.82 212.25 L859.62 212.34 L859.12 212.57 L858.62 212.80 L858.12 213.03 L857.62 213.26 L857.12 213.49 L856.62 213.72 L856.12 213.95 L855.62 214.17 L855.62 214.18Z M863.83 204.54 L863.88 204.52 L864.38 204.28 L864.88 204.04 L865.38 203.80 L865.88 203.55 L866.38 203.31 L866.88 203.06 L867.38 202.82 L867.88 202.57 L868.03 202.49 L868.03 208.29 L867.88 208.37 L867.38 208.62 L866.88 208.86 L866.38 209.11 L865.88 209.35 L865.38 209.60 L864.88 209.84 L864.38 210.08 L863.88 210.32 L863.83 210.34Z M872.05 200.47 L872.12 200.43 L872.62 200.18 L873.12 199.92 L873.62 199.66 L874.12 199.40 L874.62 199.14 L875.12 198.88 L875.62 198.62 L876.12 198.36 L876.25 198.30 L876.25 204.10 L876.12 204.16 L875.62 204.42 L875.12 204.68 L874.62 204.94 L874.12 205.20 L873.62 205.46 L873.12 205.72 L872.62 205.98 L872.12 206.23 L872.05 206.27Z M880.26 196.16 L880.38 196.09 L880.88 195.82 L881.38 195.55 L881.88 195.28 L882.38 195.01 L882.88 194.73 L883.38 194.46 L883.88 194.18 L884.38 193.90 L884.46 193.86 L884.46 199.66 L884.38 199.70 L883.88 199.98 L883.38 200.26 L882.88 200.53 L882.38 200.81 L881.88 201.08 L881.38 201.35 L880.88 201.62 L880.38 201.89 L880.26 201.96Z M888.47 191.59 L888.50 191.58 L889.00 191.29 L889.50 191.01 L890.00 190.72 L890.50 190.43 L891.00 190.14 L891.50 189.85 L892.00 189.56 L892.50 189.27 L892.67 189.17 L892.67 194.97 L892.50 195.07 L892.00 195.36 L891.50 195.65 L891.00 195.94 L890.50 196.23 L890.00 196.52 L889.50 196.81 L889.00 197.09 L888.50 197.38 L888.47 197.39Z M896.69 186.79 L896.75 186.75 L897.25 186.45 L897.75 186.15 L898.25 185.84 L898.75 185.54 L899.25 185.23 L899.75 184.93 L900.25 184.62 L900.75 184.32 L900.89 184.23 L900.89 190.03 L900.75 190.12 L900.25 190.42 L899.75 190.73 L899.25 191.03 L898.75 191.34 L898.25 191.64 L897.75 191.95 L897.25 192.25 L896.75 192.55 L896.69 192.59Z M904.90 181.73 L905.00 181.67 L905.50 181.35 L906.00 181.04 L906.50 180.72 L907.00 180.40 L907.50 180.08 L908.00 179.76 L908.50 179.44 L909.00 179.12 L909.10 179.05 L909.10 184.85 L909.00 184.92 L908.50 185.24 L908.00 185.56 L907.50 185.88 L907.00 186.20 L906.50 186.52 L906.00 186.84 L905.50 187.15 L905.00 187.47 L904.90 187.53Z M913.12 176.43 L913.12 176.42 L913.62 176.09 L914.12 175.76 L914.62 175.43 L915.12 175.10 L915.62 174.76 L916.12 174.43 L916.62 174.09 L917.12 173.76 L917.32 173.63 L917.32 179.43 L917.12 179.56 L916.62 179.89 L916.12 180.23 L915.62 180.56 L915.12 180.90 L914.62 181.23 L914.12 181.56 L913.62 181.89 L913.12 182.22 L913.12 182.23Z M921.33 170.89 L921.38 170.86 L921.88 170.51 L922.38 170.17 L922.88 169.82 L923.38 169.47 L923.88 169.12 L924.38 168.78 L924.88 168.43 L925.38 168.07 L925.53 167.97 L925.53 173.77 L925.38 173.87 L924.88 174.23 L924.38 174.58 L923.88 174.92 L923.38 175.27 L922.88 175.62 L922.38 175.97 L921.88 176.31 L921.38 176.66 L921.33 176.69Z M929.54 165.11 L929.62 165.05 L930.12 164.70 L930.62 164.34 L931.12 163.97 L931.62 163.61 L932.12 163.25 L932.62 162.89 L933.12 162.52 L933.62 162.16 L933.74 162.07 L933.74 167.87 L933.62 167.96 L933.12 168.32 L932.62 168.69 L932.12 169.05 L931.62 169.41 L931.12 169.77 L930.62 170.14 L930.12 170.50 L929.62 170.85 L929.54 170.91Z M937.76 159.11 L937.88 159.02 L938.38 158.65 L938.88 158.27 L939.38 157.90 L939.88 157.52 L940.38 157.14 L940.88 156.77 L941.38 156.39 L941.88 156.01 L941.96 155.95 L941.96 161.75 L941.88 161.81 L941.38 162.19 L940.88 162.57 L940.38 162.94 L939.88 163.32 L939.38 163.70 L938.88 164.07 L938.38 164.45 L937.88 164.82 L937.76 164.91Z M945.97 152.87 L946.00 152.85 L946.50 152.47 L947.00 152.08 L947.50 151.69 L948.00 151.30 L948.50 150.91 L949.00 150.52 L949.50 150.13 L950.00 149.74 L950.17 149.60 L950.17 155.40 L950.00 155.54 L949.50 155.93 L949.00 156.32 L948.50 156.71 L948.00 157.10 L947.50 157.49 L947.00 157.88 L946.50 158.27 L946.00 158.65 L945.97 158.67Z M954.19 146.43 L954.25 146.38 L954.75 145.98 L955.25 145.58 L955.75 145.18 L956.25 144.77 L956.75 144.37 L957.25 143.97 L957.75 143.56 L958.25 143.16 L958.39 143.05 L958.39 148.85 L958.25 148.96 L957.75 149.36 L957.25 149.77 L956.75 150.17 L956.25 150.57 L955.75 150.98 L955.25 151.38 L954.75 151.78 L954.25 152.18 L954.19 152.23Z M962.40 139.77 L962.50 139.69 L963.00 139.28 L963.50 138.87 L964.00 138.45 L964.50 138.04 L965.00 137.62 L965.50 137.21 L966.00 136.79 L966.50 136.38 L966.60 136.29 L966.60 142.09 L966.50 142.18 L966.00 142.59 L965.50 143.01 L965.00 143.42 L964.50 143.84 L964.00 144.25 L963.50 144.67 L963.00 145.08 L962.50 145.49 L962.40 145.57Z M970.61 132.92 L970.62 132.91 L971.12 132.49 L971.62 132.06 L972.12 131.64 L972.62 131.21 L973.12 130.78 L973.62 130.36 L974.12 129.93 L974.62 129.50 L974.81 129.34 L974.81 135.14 L974.62 135.30 L974.12 135.73 L973.62 136.16 L973.12 136.58 L972.62 137.01 L972.12 137.44 L971.62 137.86 L971.12 138.29 L970.62 138.71 L970.61 138.72Z M978.83 125.88 L978.88 125.83 L979.38 125.40 L979.88 124.96 L980.38 124.53 L980.88 124.09 L981.38 123.65 L981.88 123.22 L982.38 122.78 L982.88 122.34 L983.03 122.20 L983.03 128.00 L982.88 128.14 L982.38 128.58 L981.88 129.02 L981.38 129.45 L980.88 129.89 L980.38 130.33 L979.88 130.76 L979.38 131.20 L978.88 131.63 L978.83 131.68Z M987.04 118.65 L987.12 118.58 L987.62 118.13 L988.12 117.69 L988.62 117.24 L989.12 116.79 L989.62 116.35 L990.12 115.90 L990.62 115.45 L991.12 115.00 L991.24 114.89 L991.24 120.69 L991.12 120.80 L990.62 121.25 L990.12 121.70 L989.62 122.15 L989.12 122.59 L988.62 123.04 L988.12 123.49 L987.62 123.93 L987.12 124.38 L987.04 124.45Z M995.26 111.26 L995.38 111.15 L995.88 110.70 L996.00 110.58 L996.00 116.38 L995.88 116.50 L995.38 116.95 L995.26 117.06Z" fill="#0000ff"/>
<polygon points="412.80,252.50 413.95,252.49 415.11,252.49 416.26,252.49 417.42,252.48 418.57,252.48 419.73,252.48 420.88,252.47 422.04,252.47 423.19,252.47 424.35,252.46 425.50,252.46 425.50,258.66 424.35,258.66 423.19,258.67 422.04,258.67 420.88,258.67 419.73,258.68 418.57,258.68 417.42,258.68 416.26,258.69 415.11,258.69 413.95,258.69 412.80,258.70" fill="#8c8cf8" fill-opacity="1"/>
<polygon points="620.30,249.90 621.54,249.85 622.77,249.81 624.01,249.76 625.25,249.72 626.48,249.67 627.72,249.62 628.95,249.57 630.19,249.52 631.43,249.48 632.66,249.42 633.90,249.37 633.90,255.57 632.66,255.62 631.43,255.68 630.19,255.72 628.95,255.77 627.72,255.82 626.48,255.87 625.25,255.92 624.01,255.96 622.77,256.01 621.54,256.05 620.30,256.10" fill="#9a9cf8" fill-opacity="0.85"/>
<polygon points="205.60,252.58 213.68,252.58 221.76,252.58 229.85,252.57 237.93,252.57 246.01,252.57 254.09,252.57 262.17,252.56 270.25,252.56 278.34,252.56 286.42,252.55 294.50,252.55 294.50,258.95 286.42,258.95 278.34,258.96 270.25,258.96 262.17,258.96 254.09,258.97 246.01,258.97 237.93,258.97 229.85,258.97 221.76,258.98 213.68,258.98 205.60,258.98" fill="#ffffff" fill-opacity="0.2"/>
<path id="c5" d="M133.00 96.77 L135.00 97.80 L137.00 98.83 L139.00 99.86 L141.00 100.88 L143.00 101.91 L145.00 102.93 L147.00 103.95 L149.00 104.97 L151.00 105.99 L153.00 107.01 L155.00 108.02 L157.00 109.04 L159.00 110.05 L161.00 111.06 L163.00 112.08 L165.00 113.09 L167.00 114.10 L169.00 115.11 L171.00 116.12 L173.00 117.13 L175.00 118.14 L177.00 119.15 L179.00 120.15 L181.00 121.16 L183.00 122.17 L185.00 123.18 L187.00 124.18 L189.00 125.19 L191.00 126.19 L193.00 127.20 L195.00 128.20 L197.00 129.20 L199.00 130.20 L201.00 131.20 L203.00 132.20 L205.00 133.20 L207.00 134.20 L209.00 135.19 L211.00 136.18 L213.00 137.18 L215.00 138.17 L217.00 139.15 L219.00 140.14 L221.00 141.13 L223.00 142.11 L225.00 143.10 L227.00 144.08 L229.00 145.07 L231.00 146.05 L233.00 147.03 L235.00 148.01 L237.00 148.99 L239.00 149.96 L241.00 150.94 L243.00 151.91 L245.00 152.88 L247.00 153.85 L249.00 154.82 L251.00 155.79 L253.00 156.75 L255.00 157.71 L257.00 158.67 L259.00 159.63 L261.00 160.58 L263.00 161.53 L265.00 162.48 L267.00 163.43 L269.00 164.37 L271.00 165.32 L273.00 166.25 L275.00 167.19 L277.00 168.13 L279.00 169.06 L281.00 169.99 L283.00 170.91 L285.00 171.84 L287.00 172.76 L289.00 173.68 L291.00 174.60 L293.00 175.51 L295.00 176.42 L297.00 177.32 L299.00 178.23 L301.00 179.13 L303.00 180.02 L305.00 180.91 L307.00 181.80 L309.00 182.68 L311.00 183.56 L313.00 184.44 L315.00 185.31 L317.00 186.17 L319.00 187.04 L321.00 187.89 L323.00 188.74 L325.00 189.59 L327.00 190.44 L329.00 191.27 L331.00 192.11 L333.00 192.94 L335.00 193.76 L337.00 194.58 L339.00 195.39 L341.00 196.20 L343.00 197.00 L345.00 197.80 L347.00 198.59 L349.00 199.37 L351.00 200.15 L353.00 200.93 L355.00 201.70 L357.00 202.46 L359.00 203.22 L361.00 203.97 L363.00 204.72 L365.00 205.46 L367.00 206.19 L369.00 206.92 L371.00 207.64 L373.00 208.35 L375.00 209.06 L377.00 209.76 L379.00 210.46 L381.00 211.14 L383.00 211.83 L385.00 212.50 L387.00 213.17 L389.00 213.83 L391.00 214.49 L393.00 215.13 L395.00 215.77 L397.00 216.41 L399.00 217.03 L401.00 217.65 L403.00 218.26 L405.00 218.86 L407.00 219.46 L409.00 220.05 L411.00 220.63 L413.00 221.20 L415.00 221.77 L417.00 222.33 L419.00 222.88 L421.00 223.42 L423.00 223.96 L425.00 224.49 L427.00 225.01 L429.00 225.53 L431.00 226.04 L433.00 226.54 L435.00 227.03 L437.00 227.52 L439.00 228.00 L441.00 228.47 L443.00 228.94 L445.00 229.39 L447.00 229.85 L449.00 230.29 L451.00 230.73 L453.00 231.16 L455.00 231.58 L457.00 232.00 L459.00 232.41 L461.00 232.81 L463.00 233.20 L465.00 233.59 L467.00 233.98 L469.00 234.35 L471.00 234.72 L473.00 235.08 L475.00 235.44 L477.00 235.79 L479.00 236.13 L481.00 236.46 L483.00 236.79 L485.00 237.12 L487.00 237.43 L489.00 237.74 L491.00 238.05 L493.00 238.34 L495.00 238.63 L497.00 238.92 L499.00 239.20 L501.00 239.47 L503.00 239.74 L505.00 240.00 L507.00 240.25 L509.00 240.50 L511.00 240.74 L513.00 240.98 L515.00 241.21 L517.00 241.43 L519.00 241.65 L521.00 241.87 L523.00 242.08 L525.00 242.28 L527.00 242.48 L529.00 242.67 L531.00 242.86 L533.00 243.05 L535.00 243.23 L537.00 243.40 L539.00 243.57 L541.00 243.73 L543.00 243.89 L545.00 244.05 L547.00 244.20 L549.00 244.35 L551.00 244.49 L553.00 244.63 L555.00 244.76 L557.00 244.89 L559.00 245.01 L561.00 245.13 L563.00 245.25 L565.00 245.36 L567.00 245.47 L569.00 245.57 L571.00 245.67 L573.00 245.77 L575.00 245.86 L577.00 245.95 L579.00 246.03 L581.00 246.11 L583.00 246.19 L585.00 246.26 L587.00 246.33 L589.00 246.40 L591.00 246.46 L593.00 246.52 L595.00 246.57 L597.00 246.62 L599.00 246.67 L601.00 246.71 L603.00 246.75 L605.00 246.79 L607.00 246.82 L609.00 246.85 L611.00 246.88 L613.00 246.90 L615.00 246.92 L617.00 246.94 L619.00 246.95 L621.00 246.96 L623.00 246.97 L625.00 246.97 L627.00 246.97 L629.00 246.96 L631.00 246.95 L633.00 246.94 L635.00 246.93 L637.00 246.91 L639.00 246.89 L641.00 246.86 L643.00 246.83 L645.00 246.80 L647.00 246.76 L649.00 246.72 L651.00 246.68 L653.00 246.63 L655.00 246.58 L657.00 246.53 L659.00 246.47 L661.00 246.41 L663.00 246.34 L665.00 246.27 L667.00 246.20 L669.00 246.12 L671.00 246.04 L673.00 245.95 L675.00 245.87 L677.00 245.77 L679.00 245.67 L681.00 245.57 L683.00 245.47 L685.00 245.36 L687.00 245.24 L689.00 245.12 L691.00 245.00 L693.00 244.87 L695.00 244.74 L697.00 244.60 L699.00 244.46 L701.00 244.31 L703.00 244.16 L705.00 244.00 L707.00 243.83 L709.00 243.66 L711.00 243.48 L713.00 243.30 L715.00 243.10 L717.00 242.90 L719.00 242.69 L721.00 242.47 L723.00 242.25 L725.00 242.01 L727.00 241.76 L729.00 241.51 L731.00 241.25 L733.00 240.98 L735.00 240.70 L737.00 240.42 L739.00 240.13 L741.00 239.83 L743.00 239.52 L745.00 239.21 L747.00 238.89 L749.00 238.56 L751.00 238.22 L753.00 237.88 L755.00 237.53 L757.00 237.17 L759.00 236.80 L761.00 236.43 L763.00 236.04 L765.00 235.65 L767.00 235.25 L769.00 234.84 L771.00 234.43 L773.00 234.00 L775.00 233.57 L777.00 233.12 L779.00 232.67 L781.00 232.21 L783.00 231.75 L785.00 231.27 L787.00 230.79 L789.00 230.30 L791.00 229.80 L793.00 229.29 L795.00 228.78 L797.00 228.25 L799.00 227.72 L801.00 227.18 L803.00 226.63 L805.00 226.06 L807.00 225.49 L809.00 224.91 L811.00 224.31 L813.00 223.70 L815.00 223.08 L817.00 222.45 L819.00 221.81 L821.00 221.15 L823.00 220.48 L825.00 219.79 L827.00 219.10 L829.00 218.39 L831.00 217.66 L833.00 216.93 L835.00 216.18 L837.00 215.41 L839.00 214.63 L841.00 213.84 L843.00 213.04 L845.00 212.22 L847.00 211.38 L849.00 210.53 L851.00 209.67 L853.00 208.79 L855.00 207.90 L857.00 206.99 L859.00 206.07 L861.00 205.13 L863.00 204.17 L865.00 203.20 L867.00 202.22 L869.00 201.22 L871.00 200.20 L873.00 199.16 L875.00 198.11 L877.00 197.04 L879.00 195.96 L881.00 194.85 L883.00 193.73 L885.00 192.59 L887.00 191.44 L889.00 190.27 L891.00 189.07 L893.00 187.86 L895.00 186.64 L897.00 185.39 L899.00 184.12 L901.00 182.84 L903.00 181.54 L905.00 180.21 L907.00 178.87 L909.00 177.51 L911.00 176.12 L913.00 174.72 L915.00 173.30 L917.00 171.85 L919.00 170.39 L921.00 168.90 L923.00 167.39 L925.00 165.86 L927.00 164.30 L929.00 162.73 L931.00 161.13 L933.00 159.50 L935.00 157.85 L937.00 156.18 L939.00 154.48 L941.00 152.76 L943.00 151.01 L945.00 149.23 L947.00 147.43 L949.00 145.60 L951.00 143.75 L953.00 141.86 L955.00 139.95 L957.00 138.01 L959.00 136.04 L961.00 134.04 L963.00 132.01 L965.00 129.95 L967.00 127.86 L969.00 125.74 L971.00 123.58 L973.00 121.39 L975.00 119.16 L977.00 116.89 L979.00 114.59 L981.00 112.25 L983.00 109.87 L985.00 107.45 L987.00 104.98 L989.00 102.48 L991.00 99.93 L993.00 97.34 L995.00 94.70" fill="none" stroke="#ff0000" stroke-width="3.0" stroke-linejoin="round"/>
<circle cx="358" cy="199.4" r="14.8" fill="#a8cfa8" fill-opacity="0.2" stroke="#000" stroke-width="3.8"/>
<line x1="398.80" y1="119.50" x2="377.70" y2="168.79" stroke="#000" stroke-width="3.8"/>
<polygon points="371.40,183.50 373.19,158.49 377.30,169.71 388.27,164.94" fill="#000"/>
<g id="ticks">
<line x1="305.60" y1="19" x2="305.60" y2="27" stroke="#6e6e6e" stroke-width="3"/>
<line x1="305.60" y1="566" x2="305.60" y2="558" stroke="#6e6e6e" stroke-width="3"/>
<line x1="478.20" y1="19" x2="478.20" y2="27" stroke="#6e6e6e" stroke-width="3"/>
<line x1="478.20" y1="566" x2="478.20" y2="558" stroke="#6e6e6e" stroke-width="3"/>
<line x1="650.80" y1="19" x2="650.80" y2="27" stroke="#6e6e6e" stroke-width="3"/>
<line x1="650.80" y1="566" x2="650.80" y2="558" stroke="#6e6e6e" stroke-width="3"/>
<line x1="823.40" y1="19" x2="823.40" y2="27" stroke="#6e6e6e" stroke-width="3"/>
<line x1="823.40" y1="566" x2="823.40" y2="558" stroke="#6e6e6e" stroke-width="3"/>
<line x1="184.96" y1="19" x2="184.96" y2="24.5" stroke="#3a3a3a" stroke-width="2.6"/>
<line x1="184.96" y1="566" x2="184.96" y2="560.5" stroke="#3a3a3a" stroke-width="2.6"/>
<line x1="215.35" y1="19" x2="215.35" y2="24.5" stroke="#3a3a3a" stroke-width="2.6"/>
<line x1="215.35" y1="566" x2="215.35" y2="560.5" stroke="#3a3a3a" stroke-width="2.6"/>
<line x1="236.92" y1="19" x2="236.92" y2="24.5" stroke="#3a3a3a" stroke-width="2.6"/>
<line x1="236.92" y1="566" x2="236.92" y2="560.5" stroke="#3a3a3a" stroke-width="2.6"/>
<line x1="253.64" y1="19" x2="253.64" y2="24.5" stroke="#3a3a3a" stroke-width="2.6"/>
<line x1="253.64" y1="566" x2="253.64" y2="560.5" stroke="#3a3a3a" stroke-width="2.6"/>
<line x1="267.31" y1="19" x2="267.31" y2="24.5" stroke="#3a3a3a" stroke-width="2.6"/>
<line x1="267.31" y1="566" x2="267.31" y2="560.5" stroke="#3a3a3a" stroke-width="2.6"/>
<line x1="278.86" y1="19" x2="278.86" y2="24.5" stroke="#3a3a3a" stroke-width="2.6"/>
<line x1="278.86" y1="566" x2="278.86" y2="560.5" stroke="#3a3a3a" stroke-width="2.6"/>
<line x1="288.87" y1="19" x2="288.87" y2="24.5" stroke="#3a3a3a" stroke-width="2.6"/>
<line x1="288.87" y1="566" x2="288.87" y2="560.5" stroke="#3a3a3a" stroke-width="2.6"/>
<line x1="297.70" y1="19" x2="297.70" y2="24.5" stroke="#3a3a3a" stroke-width="2.6"/>
<line x1="297.70" y1="566" x2="297.70" y2="560.5" stroke="#3a3a3a" stroke-width="2.6"/>
<line x1="357.56" y1="19" x2="357.56" y2="24.5" stroke="#3a3a3a" stroke-width="2.6"/>
<line x1="357.56" y1="566" x2="357.56" y2="560.5" stroke="#3a3a3a" stroke-width="2.6"/>
<line x1="387.95" y1="19" x2="387.95" y2="24.5" stroke="#3a3a3a" stroke-width="2.6"/>
<line x1="387.95" y1="566" x2="387.95" y2="560.5" stroke="#3a3a3a" stroke-width="2.6"/>
<line x1="409.52" y1="19" x2="409.52" y2="24.5" stroke="#3a3a3a" stroke-width="2.6"/>
<line x1="409.52" y1="566" x2="409.52" y2="560.5" stroke="#3a3a3a" stroke-width="2.6"/>
<line x1="426.24" y1="19" x2="426.24" y2="24.5" stroke="#3a3a3a" stroke-width="2.6"/>
<line x1="426.24" y1="566" x2="426.24" y2="560.5" stroke="#3a3a3a" stroke-width="2.6"/>
<line x1="439.91" y1="19" x2="439.91" y2="24.5" stroke="#3a3a3a" stroke-width="2.6"/>
<line x1="439.91" y1="566" x2="439.91" y2="560.5" stroke="#3a3a3a" stroke-width="2.6"/>
<line x1="451.46" y1="19" x2="451.46" y2="24.5" stroke="#3a3a3a" stroke-width="2.6"/>
<line x1="451.46" y1="566" x2="451.46" y2="560.5" stroke="#3a3a3a" stroke-width="2.6"/>
<line x1="461.47" y1="19" x2="461.47" y2="24.5" stroke="#3a3a3a" stroke-width="2.6"/>
<line x1="461.47" y1="566" x2="461.47" y2="560.5" stroke="#3a3a3a" stroke-width="2.6"/>
<line x1="470.30" y1="19" x2="470.30" y2="24.5" stroke="#3a3a3a" stroke-width="2.6"/>
<line x1="470.30" y1="566" x2="470.30" y2="560.5" stroke="#3a3a3a" stroke-width="2.6"/>
<line x1="530.16" y1="19" x2="530.16" y2="24.5" stroke="#3a3a3a" stroke-width="2.6"/>
<line x1="530.16" y1="566" x2="530.16" y2="560.5" stroke="#3a3a3a" stroke-width="2.6"/>
<line x1="560.55" y1="19" x2="560.55" y2="24.5" stroke="#3a3a3a" stroke-width="2.6"/>
<line x1="560.55" y1="566" x2="560.55" y2="560.5" stroke="#3a3a3a" stroke-width="2.6"/>
<line x1="582.12" y1="19" x2="582.12" y2="24.5" stroke="#3a3a3a" stroke-width="2.6"/>
<line x1="582.12" y1="566" x2="582.12" y2="560.5" stroke="#3a3a3a" stroke-width="2.6"/>
<line x1="598.84" y1="19" x2="598.84" y2="24.5" stroke="#3a3a3a" stroke-width="2.6"/>
<line x1="598.84" y1="566" x2="598.84" y2="560.5" stroke="#3a3a3a" stroke-width="2.6"/>
<line x1="612.51" y1="19" x2="612.51" y2="24.5" stroke="#3a3a3a" stroke-width="2.6"/>
<line x1="612.51" y1="566" x2="612.51" y2="560.5" stroke="#3a3a3a" stroke-width="2.6"/>
<line x1="624.06" y1="19" x2="624.06" y2="24.5" stroke="#3a3a3a" stroke-width="2.6"/>
<line x1="624.06" y1="566" x2="624.06" y2="560.5" stroke="#3a3a3a" stroke-width="2.6"/>
<line x1="634.07" y1="19" x2="634.07" y2="24.5" stroke="#3a3a3a" stroke-width="2.6"/>
<line x1="634.07" y1="566" x2="634.07" y2="560.5" stroke="#3a3a3a" stroke-width="2.6"/>
<line x1="642.90" y1="19" x2="642.90" y2="24.5" stroke="#3a3a3a" stroke-width="2.6"/>
<line x1="642.90" y1="566" x2="642.90" y2="560.5" stroke="#3a3a3a" stroke-width="2.6"/>
<line x1="702.76" y1="19" x2="702.76" y2="24.5" stroke="#3a3a3a" stroke-width="2.6"/>
<line x1="702.76" y1="566" x2="702.76" y2="560.5" stroke="#3a3a3a" stroke-width="2.6"/>
<line x1="733.15" y1="19" x2="733.15" y2="24.5" stroke="#3a3a3a" stroke-width="2.6"/>
<line x1="733.15" y1="566" x2="733.15" y2="560.5" stroke="#3a3a3a" stroke-width="2.6"/>
<line x1="754.72" y1="19" x2="754.72" y2="24.5" stroke="#3a3a3a" stroke-width="2.6"/>
<line x1="754.72" y1="566" x2="754.72" y2="560.5" stroke="#3a3a3a" stroke-width="2.6"/>
<line x1="771.44" y1="19" x2="771.44" y2="24.5" stroke="#3a3a3a" stroke-width="2.6"/>
<line x1="771.44" y1="566" x2="771.44" y2="560.5" stroke="#3a3a3a" stroke-width="2.6"/>
<line x1="785.11" y1="19" x2="785.11" y2="24.5" stroke="#3a3a3a" stroke-width="2.6"/>
<line x1="785.11" y1="566" x2="785.11" y2="560.5" stroke="#3a3a3a" stroke-width="2.6"/>
<line x1="796.66" y1="19" x2="796.66" y2="24.5" stroke="#3a3a3a" stroke-width="2.6"/>
<line x1="796.66" y1="566" x2="796.66" y2="560.5" stroke="#3a3a3a" stroke-width="2.6"/>
<line x1="806.67" y1="19" x2="806.67" y2="24.5" stroke="#3a3a3a" stroke-width="2.6"/>
<line x1="806.67" y1="566" x2="806.67" y2="560.5" stroke="#3a3a3a" stroke-width="2.6"/>
<line x1="815.50" y1="19" x2="815.50" y2="24.5" stroke="#3a3a3a" stroke-width="2.6"/>
<line x1="815.50" y1="566" x2="815.50" y2="560.5" stroke="#3a3a3a" stroke-width="2.6"/>
<line x1="875.36" y1="19" x2="875.36" y2="24.5" stroke="#3a3a3a" stroke-width="2.6"/>
<line x1="875.36" y1="566" x2="875.36" y2="560.5" stroke="#3a3a3a" stroke-width="2.6"/>
<line x1="905.75" y1="19" x2="905.75" y2="24.5" stroke="#3a3a3a" stroke-width="2.6"/>
<line x1="905.75" y1="566" x2="905.75" y2="560.5" stroke="#3a3a3a" stroke-width="2.6"/>
<line x1="927.32" y1="19" x2="927.32" y2="24.5" stroke="#3a3a3a" stroke-width="2.6"/>
<line x1="927.32" y1="566" x2="927.32" y2="560.5" stroke="#3a3a3a" stroke-width="2.6"/>
<line x1="944.04" y1="19" x2="944.04" y2="24.5" stroke="#3a3a3a" stroke-width="2.6"/>
<line x1="944.04" y1="566" x2="944.04" y2="560.5" stroke="#3a3a3a" stroke-width="2.6"/>
<line x1="957.71" y1="19" x2="957.71" y2="24.5" stroke="#3a3a3a" stroke-width="2.6"/>
<line x1="957.71" y1="566" x2="957.71" y2="560.5" stroke="#3a3a3a" stroke-width="2.6"/>
<line x1="969.26" y1="19" x2="969.26" y2="24.5" stroke="#3a3a3a" stroke-width="2.6"/>
<line x1="969.26" y1="566" x2="969.26" y2="560.5" stroke="#3a3a3a" stroke-width="2.6"/>
<line x1="979.27" y1="19" x2="979.27" y2="24.5" stroke="#3a3a3a" stroke-width="2.6"/>
<line x1="979.27" y1="566" x2="979.27" y2="560.5" stroke="#3a3a3a" stroke-width="2.6"/>
<line x1="988.10" y1="19" x2="988.10" y2="24.5" stroke="#3a3a3a" stroke-width="2.6"/>
<line x1="988.10" y1="566" x2="988.10" y2="560.5" stroke="#3a3a3a" stroke-width="2.6"/>
<line x1="133" y1="201.33" x2="141" y2="201.33" stroke="#222" stroke-width="2"/>
<line x1="996" y1="201.33" x2="988" y2="201.33" stroke="#222" stroke-width="2"/>
<line x1="133" y1="383.67" x2="141" y2="383.67" stroke="#222" stroke-width="2"/>
<line x1="996" y1="383.67" x2="988" y2="383.67" stroke="#222" stroke-width="2"/>
</g>
<path d="M572.2,118.6 C574.6,118 576.2,114.6 577.4,110.2 L580.4,98.6 C581.5,94 582.9,89.8 585.6,88.3 C587.1,87.5 588.8,87.4 590,88.2" fill="none" stroke="#000" stroke-width="2.3" stroke-linecap="round"/>
<circle cx="589.0" cy="89.0" r="1.4" fill="#000"/>
<line x1="577.2" y1="98.4" x2="586.6" y2="98.4" stroke="#000" stroke-width="1.5"/>
<text id="yt8a" x="60.02" y="36.45" font-size="36.50" textLength="36.25" lengthAdjust="spacingAndGlyphs" fill="#000">10</text>
<text id="yt8b" x="95.63" y="27.24" font-size="22.21" textLength="17.68" lengthAdjust="spacingAndGlyphs" fill="#000">-8</text>
<text id="yt9a" x="57.76" y="209.85" font-size="36.51" textLength="36.41" lengthAdjust="spacingAndGlyphs" fill="#000">10</text>
<text id="yt9b" x="93.29" y="201.10" font-size="24.00" textLength="17.43" lengthAdjust="spacingAndGlyphs" fill="#000">-9</text>
<text id="yt10a" x="56.16" y="390.09" font-size="34.98" textLength="35.84" lengthAdjust="spacingAndGlyphs" fill="#000">10</text>
<text id="yt10b" x="92.41" y="381.30" font-size="22.46" textLength="26.82" lengthAdjust="spacingAndGlyphs" fill="#000">-10</text>
<text id="yt11a" x="57.57" y="569.84" font-size="36.51" textLength="36.35" lengthAdjust="spacingAndGlyphs" fill="#000">10</text>
<text id="yt11b" x="93.36" y="561.21" font-size="21.94" textLength="27.04" lengthAdjust="spacingAndGlyphs" fill="#000">-11</text>
<text id="xt5a" x="105.29" y="609.90" font-size="34.24" textLength="33.61" lengthAdjust="spacingAndGlyphs" fill="#565656">10</text>
<text id="xt5b" x="137.74" y="593.41" font-size="22.33" textLength="19.26" lengthAdjust="spacingAndGlyphs" fill="#565656">-5</text>
<text id="xt4a" x="277.38" y="609.90" font-size="34.25" textLength="33.39" lengthAdjust="spacingAndGlyphs" fill="#565656">10</text>
<text id="xt4b" x="310.08" y="593.77" font-size="21.64" textLength="18.69" lengthAdjust="spacingAndGlyphs" fill="#565656">-4</text>
<text id="xt3a" x="450.46" y="608.05" font-size="30.24" textLength="33.00" lengthAdjust="spacingAndGlyphs" fill="#565656">10</text>
<text id="xt3b" x="481.67" y="593.20" font-size="23.89" textLength="19.83" lengthAdjust="spacingAndGlyphs" fill="#565656">-3</text>
<text id="xt2a" x="622.51" y="609.00" font-size="31.35" textLength="33.59" lengthAdjust="spacingAndGlyphs" fill="#565656">10</text>
<text id="xt2b" x="655.50" y="594.00" font-size="22.39" textLength="19.73" lengthAdjust="spacingAndGlyphs" fill="#565656">-2</text>
<text id="xt1a" x="794.34" y="609.00" font-size="31.79" textLength="35.17" lengthAdjust="spacingAndGlyphs" fill="#565656">10</text>
<text id="xt1b" x="827.72" y="594.20" font-size="22.64" textLength="19.41" lengthAdjust="spacingAndGlyphs" fill="#565656">-1</text>
<text id="xt0a" x="972.36" y="609.00" font-size="31.79" textLength="32.44" lengthAdjust="spacingAndGlyphs" fill="#565656">10</text>
<text id="xt0b" x="1003.83" y="594.47" font-size="22.20" textLength="11.37" lengthAdjust="spacingAndGlyphs" fill="#565656">0</text>
<text id="xl" x="450.48" y="641.03" font-size="32.26" textLength="226.92" lengthAdjust="spacingAndGlyphs" fill="#444444">Frequency (Hz)</text>
<text id="yl1a" transform="translate(37.28 531.27) rotate(-90)" x="0" y="0" font-size="34.57" textLength="186.88" lengthAdjust="spacingAndGlyphs" fill="#111">Acceleration</text>
<text id="yl1b" transform="translate(37.02 336.86) rotate(-90)" x="0" y="0" font-size="34.93" textLength="79.07" lengthAdjust="spacingAndGlyphs" fill="#111">noise</text>
<text id="yl1c" transform="translate(36.51 249.34) rotate(-90)" x="0" y="0" font-size="35.54" textLength="65.24" lengthAdjust="spacingAndGlyphs" fill="#111">(m/s</text>
<text id="yl2" transform="translate(26.78 185.83) rotate(-90)" x="0" y="0" font-size="15.85" textLength="13.73" lengthAdjust="spacingAndGlyphs" fill="#111">2</text>
<text id="yl3" transform="translate(40.23 173.09) rotate(-90)" x="0" y="0" font-size="41.97" textLength="55.85" lengthAdjust="spacingAndGlyphs" fill="#111">/Hz</text>
<text id="yl4" transform="translate(29.23 119.07) rotate(-90)" x="0" y="0" font-size="21.84" textLength="30.64" lengthAdjust="spacingAndGlyphs" fill="#111">1/2</text>
<text id="yl5" transform="translate(36.41 90.14) rotate(-90)" x="0" y="0" font-size="32.25" textLength="13.15" lengthAdjust="spacingAndGlyphs" fill="#111">)</text>
<text id="an1" x="245.75" y="111.89" font-size="35.14" textLength="77.73" lengthAdjust="spacingAndGlyphs" fill="#000">1.01×</text>
<text id="an2" x="329.79" y="111.90" font-size="35.12" textLength="34.36" lengthAdjust="spacingAndGlyphs" fill="#000">10</text>
<text id="an3" x="364.45" y="102.73" font-size="20.66" textLength="17.70" lengthAdjust="spacingAndGlyphs" fill="#000">-9</text>
<text id="an4a" x="390.91" y="111.30" font-size="34.55" textLength="29.94" lengthAdjust="spacingAndGlyphs" fill="#000">m</text>
<text id="an4b" x="420.91" y="115.44" font-size="43.30" textLength="10.65" lengthAdjust="spacingAndGlyphs" fill="#000">/</text>
<text id="an4c" x="431.45" y="111.40" font-size="34.56" textLength="14.60" lengthAdjust="spacingAndGlyphs" fill="#000">s</text>
<text id="an5" x="445.44" y="102.74" font-size="21.26" textLength="11.41" lengthAdjust="spacingAndGlyphs" fill="#000">2</text>
<text id="an6a" x="456.17" y="115.90" font-size="43.56" textLength="11.13" lengthAdjust="spacingAndGlyphs" fill="#000">/</text>
<text id="an6b" x="467.10" y="112.10" font-size="35.52" textLength="44.70" lengthAdjust="spacingAndGlyphs" fill="#000">Hz</text>
<text id="an7" x="511.22" y="105.38" font-size="27.40" textLength="28.92" lengthAdjust="spacingAndGlyphs" fill="#000">1/2</text>
<text id="an8" x="544.11" y="106.45" font-size="24.52" textLength="24.44" lengthAdjust="spacingAndGlyphs" fill="#000">@</text>
<text id="an10" x="585.16" y="112.91" font-size="24.27" textLength="22.69" lengthAdjust="spacingAndGlyphs" fill="#000">ep</text>
<text id="an11a" x="607.14" y="109.35" font-size="22.64" textLength="19.46" lengthAdjust="spacingAndGlyphs" fill="#000">=</text>
<text id="an11b" x="624.22" y="111.80" font-size="35.39" textLength="77.75" lengthAdjust="spacingAndGlyphs" fill="#000">1.82×</text>
<text id="an12" x="707.51" y="112.04" font-size="36.52" textLength="36.20" lengthAdjust="spacingAndGlyphs" fill="#000">10</text>
<text id="an13" x="742.94" y="102.14" font-size="21.50" textLength="18.17" lengthAdjust="spacingAndGlyphs" fill="#000">-4</text>
<text id="an14" x="769.35" y="112.05" font-size="36.50" textLength="44.79" lengthAdjust="spacingAndGlyphs" fill="#000">Hz</text>
<text id="n5" x="448.17" y="224.85" font-size="34.85" textLength="19.46" lengthAdjust="spacingAndGlyphs" fill="#000">5</text>
<text id="n1" x="169.35" y="293.40" font-size="36.95" textLength="18.16" lengthAdjust="spacingAndGlyphs" fill="#000">1</text>
<text id="n3" x="849.82" y="316.95" font-size="33.98" textLength="18.59" lengthAdjust="spacingAndGlyphs" fill="#000">3</text>
<text id="n2" x="357.59" y="417.70" font-size="35.12" textLength="19.70" lengthAdjust="spacingAndGlyphs" fill="#000">2</text>
<text id="n4" x="838.56" y="468.06" font-size="35.19" textLength="17.24" lengthAdjust="spacingAndGlyphs" fill="#000">4</text>
</svg></body></html>
